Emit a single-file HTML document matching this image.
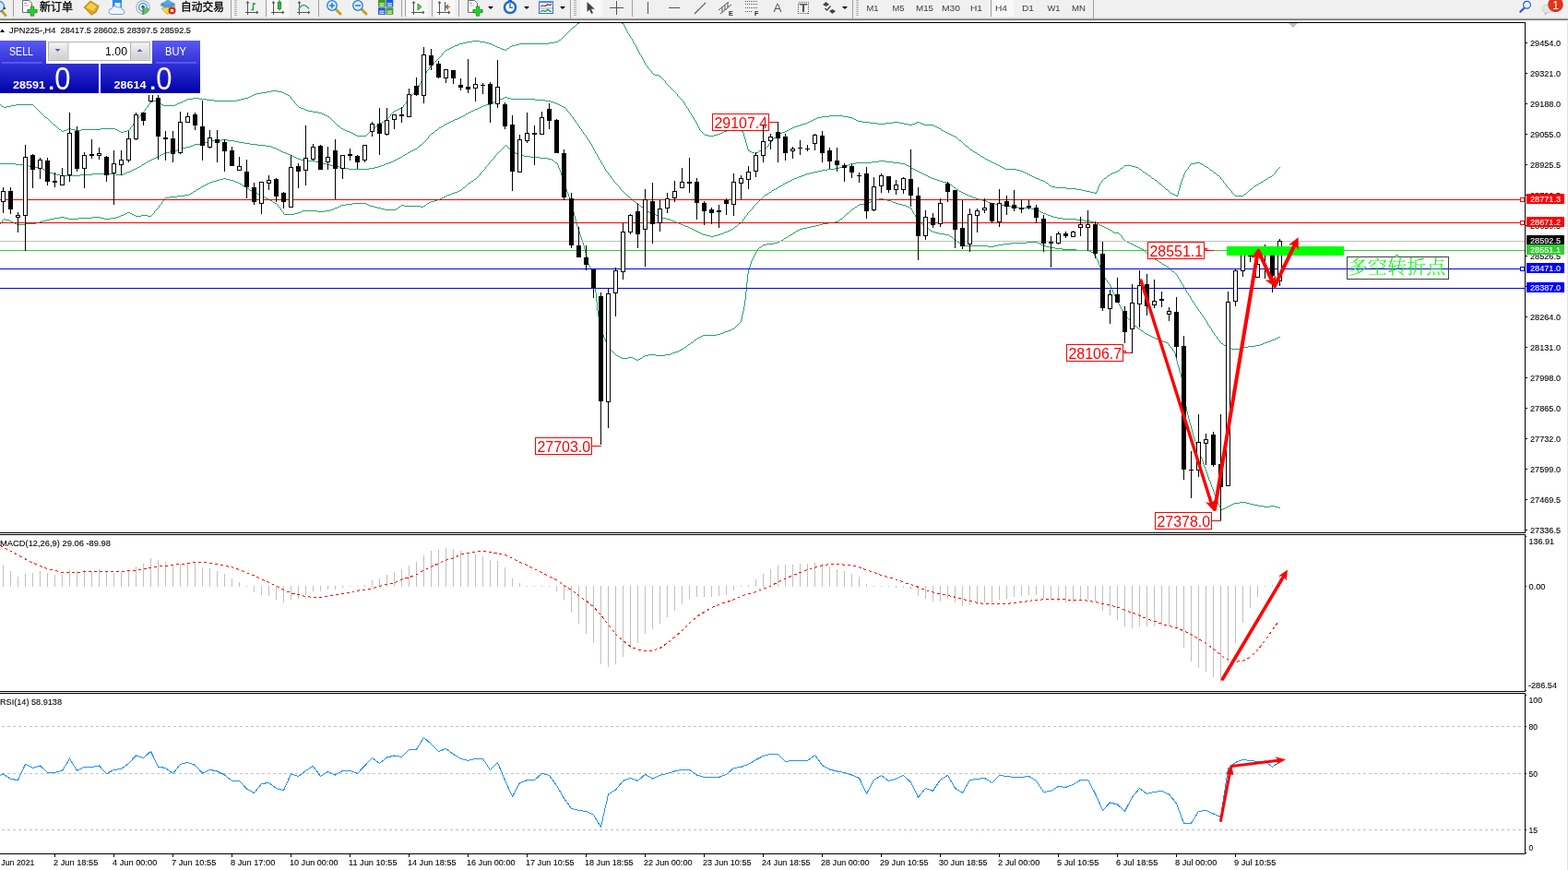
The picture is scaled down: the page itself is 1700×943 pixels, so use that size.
<!DOCTYPE html>
<html lang="zh"><head><meta charset="utf-8"><title>JPN225-,H4</title>
<style>html,body{margin:0;padding:0;background:#fff;overflow:hidden}svg{display:block}text{font-family:'Liberation Sans', 'Noto Sans CJK SC', sans-serif;}</style>
</head><body>
<svg width="1700" height="943" viewBox="0 0 1700 943">
<defs>
<linearGradient id="gb" x1="0" y1="0" x2="0" y2="1"><stop offset="0" stop-color="#5a5af2"/><stop offset="0.45" stop-color="#3030d8"/><stop offset="1" stop-color="#0000a8"/></linearGradient>
<linearGradient id="gbtn" x1="0" y1="0" x2="0" y2="1"><stop offset="0" stop-color="#f4f4f4"/><stop offset="0.5" stop-color="#e0e0e0"/><stop offset="1" stop-color="#cfcfcf"/></linearGradient>
<clipPath id="cpc"><rect x="0" y="25" width="1653" height="552"/></clipPath>
</defs>
<rect x="0" y="0" width="1700" height="943" fill="#fff"/>
<g clip-path="url(#cpc)">
<g shape-rendering="crispEdges">
<path d="M640 18h22M638 19h2M662 19h2M636 20h2M664 20h2M634 21h2M666 21h2M632 22h2M668 22h2M630 23h2M670 23h2M628 24h2M672 24h2M626 25h2M674 25h2M625 26h1M676 26h1M624 27h1M676 27h1M623 28h1M677 28h1M621 29h2M677 29h1M620 30h1M678 30h1M619 31h1M678 31h1M618 32h1M679 32h1M617 33h1M679 33h1M616 34h1M680 34h1M615 35h1M680 35h1M614 36h1M681 36h1M613 37h1M682 37h1M612 38h1M682 38h1M611 39h1M683 39h1M610 40h1M683 40h1M609 41h1M684 41h1M608 42h1M685 42h1M606 43h2M685 43h1M512 44h8M605 44h1M686 44h1M506 45h6M520 45h6M601 45h4M686 45h1M502 46h4M526 46h4M595 46h6M687 46h1M498 47h4M530 47h3M563 47h32M687 47h1M496 48h2M533 48h2M559 48h4M688 48h1M493 49h3M535 49h2M555 49h4M689 49h1M491 50h2M537 50h2M553 50h2M689 50h1M489 51h2M539 51h3M552 51h1M690 51h1M487 52h2M542 52h2M550 52h2M690 52h1M485 53h2M544 53h3M549 53h1M691 53h1M483 54h2M547 54h2M691 54h1M482 55h1M692 55h1M481 56h1M692 56h1M480 57h1M693 57h1M479 58h1M693 58h1M479 59h1M694 59h1M478 60h1M695 60h1M477 61h1M695 61h1M476 62h1M696 62h1M475 63h1M696 63h1M474 64h1M697 64h1M473 65h1M697 65h1M472 66h1M698 66h1M471 67h1M698 67h1M470 68h1M699 68h1M469 69h1M699 69h1M468 70h1M700 70h1M467 71h1M701 71h1M466 72h1M702 72h1M465 73h1M702 73h1M465 74h1M703 74h1M464 75h1M704 75h1M463 76h1M705 76h1M462 77h1M706 77h1M462 78h1M706 78h1M461 79h1M707 79h1M460 80h1M708 80h2M460 81h1M710 81h4M459 82h1M714 82h2M459 83h1M716 83h1M458 84h1M717 84h1M458 85h1M718 85h1M457 86h1M719 86h1M457 87h1M720 87h1M456 88h1M721 88h1M456 89h1M721 89h1M455 90h1M722 90h1M455 91h1M723 91h1M454 92h1M724 92h1M454 93h1M725 93h1M453 94h1M726 94h1M453 95h1M727 95h1M452 96h1M728 96h1M452 97h1M729 97h1M294 98h7M451 98h1M730 98h1M289 99h5M301 99h5M450 99h1M731 99h1M283 100h6M306 100h2M449 100h1M732 100h1M278 101h5M308 101h2M448 101h1M733 101h1M275 102h3M310 102h2M447 102h1M734 102h1M273 103h2M312 103h2M446 103h1M734 103h1M271 104h2M314 104h1M445 104h1M735 104h1M269 105h2M315 105h1M444 105h1M736 105h1M209 106h7M265 106h4M315 106h1M443 106h1M737 106h1M203 107h6M216 107h8M261 107h4M316 107h1M443 107h1M738 107h1M201 108h2M224 108h8M257 108h4M317 108h1M442 108h1M739 108h1M166 109h3M199 109h2M232 109h25M318 109h1M441 109h1M740 109h1M163 110h3M169 110h2M197 110h2M319 110h1M440 110h1M741 110h1M162 111h1M171 111h2M194 111h3M319 111h1M440 111h1M741 111h1M162 112h1M173 112h2M192 112h2M320 112h1M439 112h1M742 112h1M0 113h1M17 113h19M161 113h1M175 113h2M190 113h2M321 113h1M438 113h1M742 113h1M1 114h1M12 114h5M36 114h1M160 114h1M177 114h13M322 114h1M437 114h1M743 114h1M2 115h2M7 115h5M37 115h1M160 115h1M323 115h1M437 115h1M744 115h1M4 116h3M38 116h1M159 116h1M324 116h2M435 116h2M744 116h1M39 117h1M158 117h1M326 117h3M433 117h2M745 117h1M40 118h1M157 118h1M329 118h2M431 118h2M746 118h1M41 119h1M157 119h1M331 119h3M429 119h2M746 119h1M42 120h1M156 120h1M334 120h5M427 120h2M747 120h1M43 121h1M155 121h1M339 121h6M426 121h1M747 121h1M44 122h1M154 122h1M345 122h4M425 122h1M748 122h1M45 123h1M153 123h1M349 123h2M424 123h1M749 123h1M46 124h1M152 124h1M351 124h2M423 124h1M749 124h1M47 125h1M152 125h1M353 125h2M423 125h1M750 125h1M899 125h15M48 126h1M151 126h1M355 126h2M422 126h1M751 126h1M891 126h8M914 126h6M49 127h2M150 127h1M357 127h1M421 127h1M751 127h1M886 127h5M920 127h4M51 128h1M149 128h1M358 128h1M420 128h1M752 128h1M884 128h2M924 128h2M52 129h1M148 129h1M359 129h1M419 129h1M752 129h1M882 129h2M926 129h2M53 130h1M147 130h1M360 130h1M417 130h2M753 130h1M880 130h2M928 130h2M54 131h1M147 131h1M361 131h1M416 131h1M754 131h1M878 131h2M930 131h5M55 132h1M146 132h1M362 132h1M414 132h2M754 132h1M876 132h2M935 132h8M968 132h7M994 132h3M56 133h1M145 133h1M363 133h1M412 133h2M755 133h1M874 133h2M943 133h8M960 133h8M975 133h5M992 133h2M997 133h2M57 134h1M144 134h1M364 134h1M411 134h1M755 134h1M870 134h4M951 134h9M980 134h5M989 134h3M999 134h3M58 135h2M144 135h1M365 135h1M410 135h1M756 135h1M867 135h3M985 135h4M1002 135h10M60 136h1M143 136h1M366 136h2M408 136h2M756 136h1M864 136h3M1012 136h2M61 137h1M142 137h1M368 137h1M407 137h1M757 137h1M861 137h3M1014 137h2M62 138h1M141 138h1M369 138h1M406 138h1M757 138h1M859 138h2M1016 138h2M63 139h1M74 139h3M109 139h16M141 139h1M370 139h2M404 139h2M758 139h1M857 139h2M1018 139h2M64 140h2M72 140h2M77 140h4M88 140h21M125 140h2M140 140h1M372 140h2M403 140h1M758 140h1M790 140h11M855 140h2M1020 140h1M66 141h1M69 141h3M81 141h7M127 141h2M138 141h2M374 141h2M402 141h1M759 141h1M788 141h2M801 141h3M853 141h2M1021 141h2M67 142h2M129 142h2M134 142h4M376 142h3M401 142h1M760 142h1M785 142h3M804 142h2M851 142h2M1023 142h2M131 143h3M379 143h2M400 143h1M761 143h1M783 143h2M805 143h1M848 143h3M1025 143h2M381 144h2M399 144h1M762 144h1M781 144h2M806 144h1M846 144h2M1027 144h2M383 145h2M398 145h1M763 145h1M778 145h3M806 145h1M845 145h1M1029 145h2M385 146h2M397 146h1M764 146h4M774 146h4M806 146h1M843 146h2M1031 146h2M387 147h10M768 147h6M806 147h1M842 147h1M1033 147h2M807 148h1M841 148h1M1035 148h2M807 149h1M839 149h2M1037 149h1M807 150h1M838 150h1M1038 150h1M808 151h1M837 151h1M1039 151h1M808 152h1M836 152h1M1040 152h2M808 153h1M836 153h1M1042 153h1M808 154h1M835 154h1M1043 154h1M809 155h1M834 155h1M1044 155h1M809 156h1M833 156h1M1045 156h1M809 157h1M833 157h1M1046 157h1M810 158h1M832 158h1M1047 158h2M810 159h1M831 159h1M1049 159h1M810 160h1M829 160h2M1050 160h1M810 161h1M827 161h2M1051 161h1M811 162h1M825 162h2M1052 162h2M811 163h2M823 163h2M1054 163h1M813 164h2M822 164h1M1055 164h2M815 165h3M820 165h2M1057 165h2M818 166h2M1059 166h1M1060 167h2M1062 168h1M1063 169h2M1065 170h2M1067 171h1M1068 172h2M1070 173h2M1072 174h2M1074 175h2M1076 176h2M1296 176h5M1078 177h2M1291 177h5M1301 177h2M1080 178h2M1290 178h1M1303 178h2M1082 179h2M1219 179h8M1290 179h1M1305 179h1M1084 180h2M1218 180h1M1227 180h4M1289 180h1M1306 180h2M1086 181h2M1217 181h1M1231 181h3M1288 181h1M1308 181h2M1387 181h1M1088 182h2M1215 182h2M1234 182h1M1288 182h1M1310 182h1M1386 182h1M1090 183h12M1214 183h1M1235 183h2M1287 183h1M1311 183h1M1385 183h1M1102 184h4M1213 184h1M1237 184h1M1286 184h1M1312 184h2M1384 184h1M1106 185h3M1211 185h2M1238 185h1M1285 185h1M1314 185h1M1383 185h1M1109 186h2M1209 186h2M1239 186h2M1285 186h1M1315 186h1M1383 186h1M1111 187h2M1206 187h3M1241 187h1M1284 187h1M1316 187h2M1382 187h1M1113 188h2M1204 188h2M1242 188h2M1284 188h1M1318 188h1M1381 188h1M1115 189h2M1203 189h1M1244 189h1M1283 189h1M1319 189h1M1380 189h1M1117 190h2M1201 190h2M1245 190h2M1283 190h1M1320 190h2M1379 190h1M1119 191h2M1200 191h1M1247 191h1M1283 191h1M1322 191h1M1377 191h2M1121 192h2M1199 192h1M1248 192h1M1282 192h1M1323 192h1M1375 192h2M1123 193h3M1197 193h2M1249 193h2M1282 193h1M1323 193h1M1374 193h1M1126 194h2M1196 194h1M1251 194h1M1281 194h1M1324 194h1M1372 194h2M1128 195h3M1195 195h1M1252 195h2M1281 195h1M1325 195h1M1370 195h2M1131 196h2M1194 196h1M1254 196h1M1281 196h1M1326 196h1M1369 196h1M1133 197h1M1194 197h1M1255 197h1M1280 197h1M1326 197h1M1367 197h2M1134 198h2M1193 198h1M1256 198h1M1280 198h1M1327 198h1M1365 198h2M1136 199h1M1192 199h1M1257 199h2M1280 199h1M1328 199h1M1364 199h1M1137 200h1M1192 200h1M1259 200h1M1279 200h1M1329 200h1M1362 200h2M1138 201h2M1191 201h1M1260 201h1M1279 201h1M1329 201h1M1360 201h2M1140 202h4M1191 202h1M1261 202h1M1279 202h1M1330 202h1M1359 202h1M1144 203h12M1190 203h1M1262 203h1M1279 203h1M1331 203h1M1358 203h1M1156 204h11M1190 204h1M1263 204h1M1278 204h1M1332 204h1M1357 204h1M1167 205h6M1190 205h1M1264 205h2M1278 205h1M1333 205h1M1355 205h2M1173 206h4M1189 206h1M1266 206h1M1278 206h1M1334 206h1M1354 206h1M1177 207h5M1189 207h1M1267 207h1M1277 207h1M1335 207h1M1353 207h1M1182 208h4M1188 208h1M1268 208h1M1277 208h1M1335 208h1M1352 208h1M1186 209h3M1269 209h2M1277 209h1M1336 209h1M1351 209h1M1271 210h2M1277 210h1M1337 210h1M1349 210h2M1273 211h2M1276 211h1M1338 211h1M1348 211h1M1275 212h2M1339 212h9" transform="translate(0,0.5)" fill="none" stroke="#22a55f" stroke-width="1" shape-rendering="crispEdges"/>
<path d="M547 105h3M545 106h2M550 106h4M542 107h3M554 107h26M540 108h2M580 108h11M538 109h2M591 109h6M536 110h2M597 110h3M534 111h2M600 111h3M531 112h3M603 112h2M527 113h4M605 113h2M524 114h3M607 114h2M522 115h2M609 115h2M520 116h2M611 116h2M518 117h2M613 117h1M515 118h3M614 118h1M513 119h2M614 119h1M511 120h2M615 120h1M509 121h2M616 121h1M507 122h2M617 122h1M505 123h2M618 123h1M504 124h1M618 124h1M502 125h2M619 125h1M500 126h2M620 126h1M498 127h2M621 127h1M496 128h2M621 128h1M493 129h3M622 129h1M491 130h2M623 130h1M489 131h2M623 131h1M487 132h2M624 132h1M485 133h2M625 133h1M483 134h2M626 134h1M481 135h2M626 135h1M480 136h1M627 136h1M478 137h2M628 137h1M476 138h2M628 138h1M475 139h1M629 139h1M474 140h1M630 140h1M472 141h2M630 141h1M471 142h1M631 142h1M470 143h1M632 143h1M468 144h2M632 144h1M467 145h1M633 145h1M466 146h1M634 146h1M465 147h1M635 147h1M464 148h1M635 148h1M464 149h1M636 149h1M463 150h1M637 150h1M240 151h7M462 151h1M637 151h1M227 152h13M247 152h7M461 152h1M638 152h1M225 153h2M254 153h5M460 153h1M639 153h1M222 154h3M259 154h6M459 154h1M639 154h1M217 155h5M265 155h6M458 155h1M640 155h1M211 156h6M271 156h8M457 156h1M641 156h1M209 157h2M279 157h9M455 157h2M641 157h1M206 158h3M288 158h6M454 158h1M642 158h1M202 159h4M294 159h2M453 159h1M642 159h1M198 160h4M296 160h3M452 160h1M643 160h1M194 161h4M299 161h2M450 161h2M643 161h1M192 162h2M301 162h2M448 162h2M644 162h1M189 163h3M303 163h2M446 163h2M644 163h1M184 164h5M305 164h2M444 164h2M645 164h1M179 165h5M307 165h3M442 165h2M645 165h1M177 166h2M310 166h2M441 166h1M646 166h1M175 167h2M312 167h3M439 167h2M647 167h1M173 168h2M315 168h2M437 168h2M647 168h1M171 169h2M317 169h2M436 169h1M648 169h1M169 170h2M319 170h2M434 170h2M648 170h1M167 171h2M321 171h2M432 171h2M649 171h1M165 172h2M323 172h3M430 172h2M649 172h1M163 173h2M326 173h4M428 173h2M650 173h1M161 174h2M330 174h12M426 174h2M651 174h1M953 174h7M159 175h2M342 175h4M424 175h2M651 175h1M945 175h8M960 175h8M158 176h1M346 176h4M421 176h3M652 176h1M928 176h17M968 176h8M0 177h17M156 177h2M350 177h4M418 177h3M652 177h1M922 177h6M976 177h5M17 178h9M154 178h2M354 178h4M416 178h2M653 178h1M920 178h2M981 178h2M26 179h5M153 179h1M358 179h4M413 179h3M654 179h1M917 179h3M983 179h2M31 180h5M151 180h2M362 180h6M410 180h3M654 180h1M914 180h3M985 180h2M36 181h6M149 181h2M368 181h6M406 181h4M655 181h1M910 181h4M987 181h1M42 182h4M147 182h2M374 182h4M400 182h6M655 182h1M905 182h5M988 182h2M46 183h2M145 183h2M378 183h22M656 183h1M897 183h8M990 183h2M48 184h2M143 184h2M656 184h1M891 184h6M992 184h2M50 185h2M141 185h2M657 185h1M887 185h4M994 185h2M52 186h2M138 186h3M658 186h1M882 186h5M996 186h2M54 187h3M136 187h2M659 187h1M878 187h4M998 187h2M57 188h4M100 188h25M134 188h2M659 188h1M874 188h4M1000 188h2M61 189h4M87 189h13M125 189h9M660 189h1M872 189h2M1002 189h2M65 190h22M661 190h1M869 190h3M1004 190h2M662 191h1M866 191h3M1006 191h2M662 192h1M864 192h2M1008 192h2M663 193h1M861 193h3M1010 193h3M664 194h1M859 194h2M1013 194h3M665 195h1M857 195h2M1016 195h3M665 196h1M855 196h2M1019 196h3M666 197h1M853 197h2M1022 197h4M667 198h1M851 198h2M1026 198h3M668 199h1M849 199h2M1029 199h1M669 200h1M848 200h1M1030 200h2M670 201h1M846 201h2M1032 201h1M671 202h1M844 202h2M1033 202h1M672 203h1M843 203h1M1034 203h2M672 204h1M841 204h2M1036 204h1M673 205h1M839 205h2M1037 205h2M674 206h1M837 206h2M1039 206h1M675 207h1M836 207h1M1040 207h2M676 208h1M834 208h2M1042 208h2M677 209h1M833 209h1M1044 209h2M678 210h1M831 210h2M1046 210h2M679 211h1M829 211h2M1048 211h2M680 212h1M828 212h1M1050 212h3M681 213h2M827 213h1M1053 213h2M683 214h1M826 214h1M1055 214h3M684 215h1M825 215h1M1058 215h3M685 216h1M824 216h1M1061 216h4M686 217h1M823 217h1M1065 217h4M687 218h2M822 218h1M1069 218h2M689 219h1M821 219h1M1071 219h3M690 220h2M820 220h1M1074 220h5M692 221h1M819 221h1M1079 221h6M693 222h1M818 222h1M1085 222h4M694 223h1M817 223h1M1089 223h7M695 224h2M816 224h1M1096 224h8M697 225h1M816 225h1M1104 225h14M698 226h1M815 226h1M1118 226h4M699 227h1M814 227h1M1122 227h3M700 228h2M813 228h1M1125 228h2M702 229h2M812 229h1M1127 229h2M704 230h2M811 230h1M1129 230h2M706 231h3M810 231h1M1131 231h3M709 232h2M810 232h1M1134 232h2M711 233h2M809 233h1M1136 233h3M713 234h2M808 234h1M1139 234h3M715 235h3M807 235h1M1142 235h4M718 236h4M807 236h1M1146 236h6M722 237h4M806 237h1M1152 237h15M726 238h2M805 238h1M1167 238h8M728 239h3M805 239h1M1175 239h7M731 240h2M804 240h1M1182 240h4M733 241h3M803 241h1M1186 241h3M736 242h2M801 242h2M1189 242h2M738 243h3M800 243h1M1191 243h2M741 244h2M799 244h1M1193 244h2M743 245h3M797 245h2M1195 245h2M746 246h2M796 246h1M1197 246h2M748 247h2M795 247h1M1199 247h2M750 248h2M793 248h2M1201 248h2M752 249h2M791 249h2M1203 249h2M754 250h2M789 250h2M1205 250h1M756 251h2M786 251h3M1206 251h2M758 252h2M784 252h2M1208 252h5M760 253h2M781 253h3M1213 253h1M762 254h4M778 254h3M1214 254h1M766 255h4M774 255h4M1215 255h1M770 256h4M1216 256h1M1216 257h1M1217 258h1M1218 259h1M1219 260h1M1220 261h2M1222 262h2M1224 263h2M1226 264h2M1228 265h2M1230 266h2M1232 267h2M1234 268h2M1236 269h2M1238 270h2M1240 271h1M1241 272h1M1242 273h1M1243 274h1M1244 275h1M1245 276h1M1246 277h1M1247 278h2M1249 279h2M1251 280h1M1252 281h2M1254 282h2M1256 283h1M1257 284h2M1259 285h1M1260 286h2M1262 287h2M1264 288h1M1265 289h2M1267 290h1M1268 291h1M1269 292h1M1270 293h1M1271 294h2M1273 295h1M1274 296h1M1275 297h1M1276 298h1M1276 299h1M1277 300h1M1277 301h1M1278 302h1M1279 303h1M1279 304h1M1280 305h1M1280 306h1M1281 307h1M1282 308h1M1282 309h1M1283 310h1M1283 311h1M1284 312h1M1285 313h1M1285 314h1M1286 315h1M1286 316h1M1287 317h1M1288 318h1M1288 319h1M1289 320h1M1290 321h1M1290 322h1M1291 323h1M1291 324h1M1292 325h1M1293 326h1M1293 327h1M1294 328h1M1295 329h1M1295 330h1M1296 331h1M1297 332h1M1297 333h1M1298 334h1M1299 335h1M1299 336h1M1300 337h1M1301 338h1M1301 339h1M1302 340h1M1303 341h1M1304 342h1M1304 343h1M1305 344h1M1306 345h1M1306 346h1M1307 347h1M1308 348h1M1308 349h1M1309 350h1M1309 351h1M1310 352h1M1311 353h1M1311 354h1M1312 355h1M1313 356h1M1313 357h1M1314 358h1M1314 359h1M1315 360h1M1316 361h1M1316 362h1M1317 363h1M1318 364h1M1319 365h1M1386 365h2M1319 366h1M1384 366h2M1320 367h1M1382 367h2M1321 368h1M1379 368h3M1322 369h1M1377 369h2M1322 370h1M1374 370h3M1323 371h1M1371 371h3M1324 372h2M1369 372h2M1326 373h1M1366 373h3M1327 374h2M1361 374h5M1329 375h2M1353 375h8M1331 376h2M1348 376h5M1333 377h2M1346 377h2M1335 378h11" transform="translate(0,0.5)" fill="none" stroke="#22a55f" stroke-width="1" shape-rendering="crispEdges"/>
<path d="M548 157h1M547 158h1M549 158h1M546 159h1M550 159h1M545 160h1M551 160h1M544 161h1M552 161h2M543 162h1M554 162h1M542 163h1M555 163h1M541 164h1M556 164h1M540 165h1M557 165h2M539 166h1M559 166h2M538 167h1M561 167h2M537 168h1M563 168h5M536 169h1M568 169h7M536 170h1M575 170h10M535 171h1M585 171h9M534 172h1M594 172h4M533 173h1M598 173h2M532 174h1M600 174h1M531 175h1M601 175h1M530 176h1M602 176h2M530 177h1M604 177h1M529 178h1M604 178h1M528 179h1M605 179h1M527 180h1M605 180h1M526 181h1M605 181h1M526 182h1M606 182h1M525 183h1M606 183h1M524 184h1M607 184h1M523 185h1M607 185h1M522 186h1M607 186h1M521 187h1M608 187h1M520 188h1M608 188h1M520 189h1M608 189h1M519 190h1M609 190h1M518 191h1M609 191h1M517 192h1M609 192h1M242 193h3M516 193h1M610 193h1M238 194h4M245 194h4M514 194h2M610 194h1M235 195h3M249 195h4M513 195h1M610 195h1M231 196h4M253 196h2M511 196h2M611 196h1M228 197h3M255 197h3M510 197h1M611 197h1M226 198h2M258 198h2M508 198h2M611 198h1M224 199h2M260 199h2M507 199h1M612 199h1M222 200h2M262 200h1M506 200h1M612 200h1M220 201h2M263 201h2M505 201h1M612 201h1M218 202h2M265 202h2M504 202h1M613 202h1M217 203h1M267 203h1M502 203h2M613 203h1M215 204h2M268 204h2M501 204h1M613 204h1M213 205h2M270 205h1M500 205h1M614 205h1M212 206h1M271 206h2M498 206h2M614 206h1M210 207h2M273 207h2M496 207h2M614 207h1M209 208h1M275 208h2M493 208h3M615 208h1M207 209h2M277 209h2M490 209h3M615 209h1M205 210h2M279 210h2M488 210h2M616 210h1M200 211h5M281 211h2M485 211h3M616 211h1M192 212h8M283 212h2M483 212h2M616 212h1M184 213h8M285 213h2M481 213h2M617 213h1M179 214h5M287 214h2M479 214h2M617 214h1M178 215h1M289 215h2M477 215h2M618 215h1M953 215h5M178 216h1M291 216h2M474 216h3M618 216h1M948 216h5M958 216h4M177 217h1M293 217h2M471 217h3M618 217h1M946 217h2M962 217h4M176 218h1M295 218h1M467 218h4M619 218h1M944 218h2M966 218h2M175 219h1M296 219h2M465 219h2M619 219h1M942 219h2M968 219h3M175 220h1M298 220h2M382 220h15M463 220h2M619 220h1M937 220h5M971 220h3M174 221h1M300 221h1M375 221h7M397 221h2M462 221h1M619 221h1M932 221h5M974 221h4M173 222h1M301 222h1M370 222h5M399 222h2M435 222h3M461 222h1M620 222h1M930 222h2M978 222h4M172 223h1M301 223h1M368 223h2M401 223h4M434 223h1M438 223h18M459 223h2M620 223h1M929 223h1M982 223h2M172 224h1M302 224h1M366 224h2M405 224h4M432 224h2M456 224h3M620 224h1M927 224h2M984 224h2M171 225h1M303 225h1M363 225h3M409 225h4M431 225h1M620 225h1M926 225h1M986 225h2M170 226h1M304 226h1M361 226h2M413 226h4M429 226h2M621 226h1M924 226h2M988 226h1M169 227h1M304 227h1M358 227h3M417 227h12M621 227h1M923 227h1M988 227h1M168 228h1M305 228h1M328 228h16M352 228h6M621 228h1M922 228h1M989 228h1M167 229h1M306 229h1M326 229h2M344 229h8M621 229h1M921 229h1M989 229h1M138 230h3M167 230h1M307 230h1M323 230h3M622 230h1M920 230h1M990 230h1M136 231h2M141 231h2M166 231h1M307 231h1M319 231h4M622 231h1M918 231h2M990 231h1M134 232h2M143 232h2M165 232h1M308 232h11M622 232h1M917 232h1M991 232h1M131 233h3M145 233h2M153 233h7M164 233h1M622 233h1M916 233h1M992 233h1M129 234h2M147 234h6M160 234h4M623 234h1M915 234h1M992 234h1M65 235h5M100 235h9M126 235h3M623 235h1M914 235h1M993 235h1M59 236h6M70 236h4M85 236h15M109 236h4M120 236h6M623 236h1M913 236h1M993 236h1M4 237h2M54 237h5M74 237h11M113 237h7M623 237h1M911 237h2M994 237h1M3 238h1M6 238h4M50 238h4M624 238h1M910 238h1M994 238h1M2 239h1M10 239h2M46 239h4M624 239h1M909 239h1M995 239h1M2 240h1M12 240h2M43 240h3M624 240h1M905 240h4M996 240h1M1 241h1M14 241h2M39 241h4M624 241h1M898 241h7M997 241h2M0 242h1M16 242h2M28 242h11M625 242h1M892 242h6M999 242h1M18 243h10M625 243h1M888 243h4M1000 243h1M625 244h1M884 244h4M1001 244h2M626 245h1M879 245h5M1003 245h1M626 246h1M875 246h4M1004 246h1M626 247h1M870 247h5M1005 247h2M627 248h1M867 248h3M1007 248h1M627 249h1M865 249h2M1008 249h1M627 250h1M863 250h2M1009 250h2M628 251h1M862 251h1M1011 251h3M628 252h1M860 252h2M1014 252h4M628 253h1M859 253h1M1018 253h6M629 254h1M857 254h2M1024 254h5M629 255h1M855 255h2M1029 255h1M629 256h1M854 256h1M1030 256h2M630 257h1M852 257h2M1032 257h1M630 258h1M850 258h2M1033 258h1M630 259h1M849 259h1M1034 259h2M631 260h1M847 260h2M1036 260h1M631 261h1M845 261h2M1037 261h1M631 262h1M843 262h2M1038 262h2M1113 262h12M632 263h1M839 263h4M1040 263h1M1096 263h17M1125 263h2M632 264h1M831 264h8M1041 264h1M1088 264h8M1127 264h2M632 265h1M827 265h4M1042 265h2M1082 265h6M1129 265h2M633 266h1M826 266h1M1044 266h27M1078 266h4M1131 266h3M633 267h1M825 267h1M1071 267h7M1134 267h4M633 268h1M823 268h2M1138 268h6M633 269h1M822 269h1M1144 269h8M634 270h1M821 270h1M1152 270h15M634 271h1M820 271h1M1167 271h14M634 272h1M820 272h1M1181 272h2M634 273h1M819 273h1M1183 273h2M635 274h1M819 274h1M1185 274h1M635 275h1M818 275h1M1186 275h1M635 276h1M818 276h1M1186 276h1M635 277h1M817 277h1M1187 277h1M636 278h1M817 278h1M1188 278h1M636 279h1M816 279h1M1188 279h1M636 280h1M816 280h1M1189 280h1M636 281h1M815 281h1M1189 281h1M637 282h1M815 282h1M1190 282h1M637 283h1M814 283h1M1190 283h1M637 284h1M814 284h1M1190 284h1M637 285h1M814 285h1M1191 285h1M638 286h1M813 286h1M1191 286h1M638 287h1M813 287h1M1192 287h1M639 288h1M813 288h1M1192 288h1M639 289h1M812 289h1M1192 289h1M640 290h1M812 290h1M1193 290h1M640 291h1M811 291h1M1193 291h1M641 292h1M811 292h1M1194 292h1M641 293h1M811 293h1M1194 293h1M641 294h1M811 294h1M1195 294h1M642 295h1M811 295h1M1195 295h1M642 296h1M811 296h1M1195 296h1M642 297h1M810 297h1M1196 297h1M642 298h1M810 298h1M1196 298h1M642 299h1M810 299h1M1197 299h1M643 300h1M810 300h1M1197 300h1M643 301h1M810 301h1M1198 301h1M643 302h1M810 302h1M1198 302h1M643 303h1M810 303h1M1199 303h1M643 304h1M810 304h1M1200 304h1M644 305h1M810 305h1M1200 305h1M644 306h1M809 306h1M1201 306h1M644 307h1M809 307h1M1202 307h1M644 308h1M809 308h1M1203 308h1M644 309h1M809 309h1M1203 309h1M645 310h1M809 310h1M1204 310h1M645 311h1M809 311h1M1204 311h1M645 312h1M809 312h1M1205 312h1M645 313h1M809 313h1M1205 313h1M645 314h1M809 314h1M1206 314h1M645 315h1M809 315h1M1206 315h1M645 316h1M808 316h1M1206 316h1M646 317h1M808 317h1M1207 317h1M646 318h1M808 318h1M1207 318h1M646 319h1M808 319h1M1208 319h1M646 320h1M808 320h1M1208 320h1M646 321h1M808 321h1M1209 321h1M646 322h1M808 322h1M1209 322h1M646 323h1M808 323h1M1210 323h1M646 324h1M808 324h1M1210 324h1M646 325h1M807 325h1M1211 325h1M646 326h1M807 326h1M1211 326h1M647 327h1M807 327h1M1212 327h1M647 328h1M807 328h1M1212 328h1M647 329h1M807 329h1M1213 329h1M647 330h1M807 330h1M1213 330h1M647 331h1M807 331h1M1214 331h1M647 332h1M806 332h1M1214 332h1M647 333h1M806 333h1M1215 333h1M647 334h1M806 334h1M1215 334h1M647 335h1M806 335h1M1216 335h1M647 336h1M806 336h1M1216 336h1M648 337h1M805 337h1M1217 337h1M648 338h1M805 338h1M1217 338h1M648 339h1M805 339h1M1218 339h1M648 340h1M805 340h1M1219 340h1M648 341h1M804 341h1M1220 341h1M648 342h1M804 342h1M1221 342h1M649 343h1M804 343h1M1221 343h1M649 344h1M804 344h1M1222 344h1M649 345h1M804 345h1M1223 345h1M649 346h1M803 346h1M1224 346h1M650 347h1M803 347h1M1225 347h1M650 348h1M803 348h1M1226 348h1M650 349h1M802 349h1M1226 349h1M650 350h1M801 350h1M1227 350h1M651 351h1M800 351h1M1228 351h1M651 352h1M799 352h1M1229 352h1M651 353h1M798 353h1M1230 353h2M651 354h1M797 354h1M1232 354h1M652 355h1M796 355h1M1233 355h1M652 356h1M794 356h2M1234 356h2M652 357h1M792 357h2M1236 357h1M652 358h1M789 358h3M1237 358h2M653 359h1M786 359h3M1239 359h1M653 360h1M784 360h2M1240 360h1M653 361h1M781 361h3M1241 361h2M653 362h1M777 362h4M1243 362h2M654 363h1M762 363h15M1245 363h2M654 364h1M760 364h2M1247 364h2M654 365h1M758 365h2M1249 365h2M655 366h1M756 366h2M1251 366h2M655 367h1M755 367h1M1253 367h3M656 368h1M753 368h2M1256 368h3M656 369h1M752 369h1M1259 369h2M657 370h1M751 370h1M1261 370h3M657 371h1M749 371h2M1264 371h2M658 372h1M748 372h1M1266 372h1M659 373h1M746 373h2M1267 373h1M659 374h1M745 374h1M1267 374h1M660 375h1M744 375h1M1268 375h1M660 376h1M742 376h2M1269 376h1M661 377h1M741 377h1M1270 377h1M661 378h1M739 378h2M1271 378h1M662 379h1M737 379h2M1271 379h1M663 380h1M735 380h2M1272 380h1M664 381h1M732 381h3M1273 381h1M665 382h1M729 382h3M1273 382h1M666 383h1M727 383h2M1274 383h1M667 384h1M703 384h8M721 384h6M1274 384h1M668 385h2M699 385h4M711 385h10M1274 385h1M670 386h2M697 386h2M1274 386h1M672 387h2M681 387h5M696 387h1M1275 387h1M674 388h7M686 388h2M694 388h2M1275 388h1M688 389h2M692 389h2M1275 389h1M690 390h2M1275 390h1M1276 391h1M1276 392h1M1276 393h1M1276 394h1M1277 395h1M1277 396h1M1277 397h1M1278 398h1M1278 399h1M1278 400h1M1278 401h1M1279 402h1M1279 403h1M1279 404h1M1280 405h1M1280 406h1M1280 407h1M1280 408h1M1281 409h1M1281 410h1M1281 411h1M1281 412h1M1281 413h1M1282 414h1M1282 415h1M1282 416h1M1282 417h1M1282 418h1M1282 419h1M1282 420h1M1283 421h1M1283 422h1M1283 423h1M1283 424h1M1283 425h1M1283 426h1M1284 427h1M1284 428h1M1284 429h1M1284 430h1M1284 431h1M1284 432h1M1284 433h1M1285 434h1M1285 435h1M1285 436h1M1285 437h1M1285 438h1M1285 439h1M1285 440h1M1286 441h1M1286 442h1M1286 443h1M1286 444h1M1286 445h1M1287 446h1M1287 447h1M1287 448h1M1287 449h1M1288 450h1M1288 451h1M1288 452h1M1288 453h1M1289 454h1M1289 455h1M1289 456h1M1289 457h1M1290 458h1M1290 459h1M1290 460h1M1291 461h1M1291 462h1M1291 463h1M1291 464h1M1292 465h1M1292 466h1M1292 467h1M1292 468h1M1293 469h1M1293 470h1M1293 471h1M1293 472h1M1294 473h1M1294 474h1M1294 475h1M1295 476h1M1295 477h1M1295 478h1M1296 479h1M1296 480h1M1297 481h1M1297 482h1M1297 483h1M1298 484h1M1298 485h1M1298 486h1M1299 487h1M1299 488h1M1300 489h1M1300 490h1M1300 491h1M1301 492h1M1301 493h1M1301 494h1M1302 495h1M1302 496h1M1303 497h1M1303 498h1M1303 499h1M1304 500h1M1304 501h1M1304 502h1M1305 503h1M1305 504h1M1305 505h1M1306 506h1M1306 507h1M1307 508h1M1307 509h1M1307 510h1M1308 511h1M1308 512h1M1308 513h1M1309 514h1M1309 515h1M1309 516h1M1310 517h1M1310 518h1M1310 519h1M1311 520h1M1311 521h1M1312 522h1M1312 523h1M1312 524h1M1313 525h1M1313 526h1M1313 527h1M1314 528h1M1314 529h1M1315 530h1M1315 531h1M1315 532h1M1316 533h1M1316 534h1M1316 535h1M1317 536h1M1317 537h1M1318 538h1M1318 539h1M1318 540h1M1319 541h1M1319 542h1M1319 543h1M1320 544h1M1344 544h7M1320 545h1M1338 545h6M1351 545h4M1321 546h1M1336 546h2M1355 546h4M1321 547h1M1334 547h2M1359 547h5M1322 548h1M1332 548h2M1364 548h6M1377 548h5M1322 549h1M1330 549h2M1370 549h7M1382 549h4M1323 550h1M1328 550h2M1386 550h2M1323 551h1M1326 551h2M1324 552h2" transform="translate(0,0.5)" fill="none" stroke="#22a55f" stroke-width="1" shape-rendering="crispEdges"/>
</g>
<g shape-rendering="crispEdges">
<rect x="0" y="216" width="1653" height="1" fill="#ff0000"/>
<rect x="0" y="241" width="1653" height="1" fill="#ff0000"/>
<rect x="0" y="261" width="1653" height="1" fill="#c0c0c0"/>
<rect x="0" y="271" width="1653" height="1" fill="#32cd32"/>
<rect x="0" y="291" width="1653" height="1" fill="#0000ff"/>
<rect x="0" y="312" width="1653" height="1" fill="#0000ff"/>
<rect x="1648.5" y="214.5" width="4" height="4" fill="#fff" stroke="#ff0000" stroke-width="1"/>
<rect x="1648.5" y="239.5" width="4" height="4" fill="#fff" stroke="#ff0000" stroke-width="1"/>
<rect x="1648.5" y="289.5" width="4" height="4" fill="#fff" stroke="#0000ff" stroke-width="1"/>
</g>
<g shape-rendering="crispEdges"><rect x="772.5" y="123.5" width="61" height="18" fill="#fff" stroke="#ff0000" stroke-width="1"/>
<rect x="834" y="132" width="9" height="1" fill="#ff0000"/></g>
<text x="774.5" y="139" font-size="16" fill="#ff0000" textLength="57.5" lengthAdjust="spacingAndGlyphs">29107.4</text>
<g shape-rendering="crispEdges"><rect x="580.5" y="474.5" width="61" height="18" fill="#fff" stroke="#ff0000" stroke-width="1"/>
<rect x="642" y="483" width="10" height="1" fill="#ff0000"/></g>
<text x="582.5" y="490" font-size="16" fill="#ff0000" textLength="57.5" lengthAdjust="spacingAndGlyphs">27703.0</text>
<g shape-rendering="crispEdges"><rect x="1156.5" y="373.5" width="61" height="18" fill="#fff" stroke="#ff0000" stroke-width="1"/>
<rect x="1218.5" y="380.5" width="2" height="2" fill="#fff" stroke="#ff0000"/><rect x="1221" y="382" width="7" height="1" fill="#ff0000"/></g>
<text x="1158.5" y="389" font-size="16" fill="#ff0000" textLength="57.5" lengthAdjust="spacingAndGlyphs">28106.7</text>
<g shape-rendering="crispEdges"><rect x="1244.5" y="262.5" width="61" height="18" fill="#fff" stroke="#ff0000" stroke-width="1"/>
<rect x="1306.5" y="269.5" width="2" height="2" fill="#fff" stroke="#ff0000"/><rect x="1309" y="271" width="7" height="1" fill="#ff0000"/></g>
<text x="1246.5" y="278" font-size="16" fill="#ff0000" textLength="57.5" lengthAdjust="spacingAndGlyphs">28551.1</text>
<g shape-rendering="crispEdges"><rect x="1252.5" y="555.5" width="61" height="18" fill="#fff" stroke="#ff0000" stroke-width="1"/>
<rect x="1314" y="564" width="10" height="1" fill="#ff0000"/></g>
<text x="1254.5" y="571" font-size="16" fill="#ff0000" textLength="57.5" lengthAdjust="spacingAndGlyphs">27378.0</text>
<g shape-rendering="crispEdges">
<rect x="3" y="203" width="1" height="28" fill="#000"/>
<rect x="1" y="207" width="5" height="12" fill="#000"/>
<rect x="2" y="208" width="3" height="10" fill="#fff"/>
<rect x="11" y="203" width="1" height="29" fill="#000"/>
<rect x="9" y="207" width="5" height="20" fill="#000"/>
<rect x="19" y="230" width="1" height="22" fill="#000"/>
<rect x="17" y="233" width="5" height="3" fill="#000"/>
<rect x="18" y="234" width="3" height="1" fill="#fff"/>
<rect x="27" y="157" width="1" height="115" fill="#000"/>
<rect x="25" y="170" width="5" height="64" fill="#000"/>
<rect x="26" y="171" width="3" height="62" fill="#fff"/>
<rect x="35" y="167" width="1" height="37" fill="#000"/>
<rect x="33" y="168" width="5" height="16" fill="#000"/>
<rect x="43" y="171" width="1" height="23" fill="#000"/>
<rect x="41" y="173" width="5" height="10" fill="#000"/>
<rect x="42" y="174" width="3" height="8" fill="#fff"/>
<rect x="51" y="171" width="1" height="30" fill="#000"/>
<rect x="49" y="174" width="5" height="23" fill="#000"/>
<rect x="59" y="187" width="1" height="16" fill="#000"/>
<rect x="57" y="196" width="5" height="2" fill="#000"/>
<rect x="67" y="182" width="1" height="19" fill="#000"/>
<rect x="65" y="190" width="5" height="11" fill="#000"/>
<rect x="66" y="191" width="3" height="9" fill="#fff"/>
<rect x="75" y="122" width="1" height="75" fill="#000"/>
<rect x="73" y="144" width="5" height="46" fill="#000"/>
<rect x="74" y="145" width="3" height="44" fill="#fff"/>
<rect x="83" y="137" width="1" height="49" fill="#000"/>
<rect x="81" y="142" width="5" height="41" fill="#000"/>
<rect x="91" y="165" width="1" height="39" fill="#000"/>
<rect x="89" y="168" width="5" height="15" fill="#000"/>
<rect x="90" y="169" width="3" height="13" fill="#fff"/>
<rect x="99" y="151" width="1" height="21" fill="#000"/>
<rect x="97" y="167" width="5" height="2" fill="#000"/>
<rect x="107" y="160" width="1" height="13" fill="#000"/>
<rect x="105" y="166" width="5" height="3" fill="#000"/>
<rect x="106" y="167" width="3" height="1" fill="#fff"/>
<rect x="115" y="169" width="1" height="28" fill="#000"/>
<rect x="113" y="170" width="5" height="20" fill="#000"/>
<rect x="123" y="163" width="1" height="59" fill="#000"/>
<rect x="121" y="177" width="5" height="11" fill="#000"/>
<rect x="122" y="178" width="3" height="9" fill="#fff"/>
<rect x="131" y="163" width="1" height="27" fill="#000"/>
<rect x="129" y="173" width="5" height="6" fill="#000"/>
<rect x="130" y="174" width="3" height="4" fill="#fff"/>
<rect x="139" y="142" width="1" height="34" fill="#000"/>
<rect x="137" y="150" width="5" height="24" fill="#000"/>
<rect x="138" y="151" width="3" height="22" fill="#fff"/>
<rect x="147" y="122" width="1" height="30" fill="#000"/>
<rect x="145" y="124" width="5" height="27" fill="#000"/>
<rect x="146" y="125" width="3" height="25" fill="#fff"/>
<rect x="155" y="122" width="1" height="14" fill="#000"/>
<rect x="153" y="122" width="5" height="9" fill="#000"/>
<rect x="163" y="84" width="1" height="27" fill="#000"/>
<rect x="161" y="93" width="5" height="17" fill="#000"/>
<rect x="162" y="94" width="3" height="15" fill="#fff"/>
<rect x="171" y="85" width="1" height="88" fill="#000"/>
<rect x="169" y="106" width="5" height="42" fill="#000"/>
<rect x="179" y="142" width="1" height="32" fill="#000"/>
<rect x="177" y="149" width="5" height="2" fill="#000"/>
<rect x="187" y="142" width="1" height="34" fill="#000"/>
<rect x="185" y="150" width="5" height="17" fill="#000"/>
<rect x="195" y="121" width="1" height="46" fill="#000"/>
<rect x="193" y="132" width="5" height="34" fill="#000"/>
<rect x="194" y="133" width="3" height="32" fill="#fff"/>
<rect x="203" y="122" width="1" height="11" fill="#000"/>
<rect x="201" y="126" width="5" height="7" fill="#000"/>
<rect x="202" y="127" width="3" height="5" fill="#fff"/>
<rect x="211" y="122" width="1" height="19" fill="#000"/>
<rect x="209" y="124" width="5" height="12" fill="#000"/>
<rect x="219" y="109" width="1" height="65" fill="#000"/>
<rect x="217" y="137" width="5" height="21" fill="#000"/>
<rect x="227" y="141" width="1" height="20" fill="#000"/>
<rect x="225" y="149" width="5" height="11" fill="#000"/>
<rect x="226" y="150" width="3" height="9" fill="#fff"/>
<rect x="235" y="141" width="1" height="35" fill="#000"/>
<rect x="233" y="151" width="5" height="4" fill="#000"/>
<rect x="243" y="151" width="1" height="35" fill="#000"/>
<rect x="241" y="154" width="5" height="10" fill="#000"/>
<rect x="251" y="159" width="1" height="21" fill="#000"/>
<rect x="249" y="163" width="5" height="17" fill="#000"/>
<rect x="259" y="170" width="1" height="15" fill="#000"/>
<rect x="257" y="180" width="5" height="5" fill="#000"/>
<rect x="258" y="181" width="3" height="3" fill="#fff"/>
<rect x="267" y="173" width="1" height="42" fill="#000"/>
<rect x="265" y="186" width="5" height="17" fill="#000"/>
<rect x="275" y="198" width="1" height="24" fill="#000"/>
<rect x="273" y="203" width="5" height="16" fill="#000"/>
<rect x="283" y="197" width="1" height="35" fill="#000"/>
<rect x="281" y="197" width="5" height="24" fill="#000"/>
<rect x="282" y="198" width="3" height="22" fill="#fff"/>
<rect x="291" y="190" width="1" height="16" fill="#000"/>
<rect x="289" y="195" width="5" height="4" fill="#000"/>
<rect x="290" y="196" width="3" height="2" fill="#fff"/>
<rect x="299" y="193" width="1" height="26" fill="#000"/>
<rect x="297" y="194" width="5" height="19" fill="#000"/>
<rect x="307" y="208" width="1" height="18" fill="#000"/>
<rect x="305" y="209" width="5" height="10" fill="#000"/>
<rect x="315" y="168" width="1" height="57" fill="#000"/>
<rect x="313" y="181" width="5" height="44" fill="#000"/>
<rect x="314" y="182" width="3" height="42" fill="#fff"/>
<rect x="323" y="177" width="1" height="27" fill="#000"/>
<rect x="321" y="180" width="5" height="6" fill="#000"/>
<rect x="331" y="136" width="1" height="65" fill="#000"/>
<rect x="329" y="171" width="5" height="14" fill="#000"/>
<rect x="330" y="172" width="3" height="12" fill="#fff"/>
<rect x="339" y="156" width="1" height="18" fill="#000"/>
<rect x="337" y="159" width="5" height="14" fill="#000"/>
<rect x="338" y="160" width="3" height="12" fill="#fff"/>
<rect x="347" y="157" width="1" height="27" fill="#000"/>
<rect x="345" y="158" width="5" height="26" fill="#000"/>
<rect x="355" y="159" width="1" height="25" fill="#000"/>
<rect x="353" y="170" width="5" height="6" fill="#000"/>
<rect x="354" y="171" width="3" height="4" fill="#fff"/>
<rect x="363" y="151" width="1" height="65" fill="#000"/>
<rect x="361" y="163" width="5" height="20" fill="#000"/>
<rect x="371" y="168" width="1" height="26" fill="#000"/>
<rect x="369" y="168" width="5" height="15" fill="#000"/>
<rect x="370" y="169" width="3" height="13" fill="#fff"/>
<rect x="379" y="161" width="1" height="13" fill="#000"/>
<rect x="377" y="167" width="5" height="2" fill="#000"/>
<rect x="387" y="168" width="1" height="15" fill="#000"/>
<rect x="385" y="169" width="5" height="7" fill="#000"/>
<rect x="395" y="157" width="1" height="19" fill="#000"/>
<rect x="393" y="157" width="5" height="17" fill="#000"/>
<rect x="394" y="158" width="3" height="15" fill="#fff"/>
<rect x="403" y="132" width="1" height="16" fill="#000"/>
<rect x="401" y="134" width="5" height="9" fill="#000"/>
<rect x="402" y="135" width="3" height="7" fill="#fff"/>
<rect x="411" y="117" width="1" height="51" fill="#000"/>
<rect x="409" y="134" width="5" height="11" fill="#000"/>
<rect x="419" y="117" width="1" height="30" fill="#000"/>
<rect x="417" y="130" width="5" height="16" fill="#000"/>
<rect x="418" y="131" width="3" height="14" fill="#fff"/>
<rect x="427" y="124" width="1" height="16" fill="#000"/>
<rect x="425" y="124" width="5" height="6" fill="#000"/>
<rect x="426" y="125" width="3" height="4" fill="#fff"/>
<rect x="435" y="116" width="1" height="17" fill="#000"/>
<rect x="433" y="124" width="5" height="2" fill="#000"/>
<rect x="443" y="96" width="1" height="31" fill="#000"/>
<rect x="441" y="102" width="5" height="25" fill="#000"/>
<rect x="442" y="103" width="3" height="23" fill="#fff"/>
<rect x="451" y="84" width="1" height="20" fill="#000"/>
<rect x="449" y="93" width="5" height="10" fill="#000"/>
<rect x="459" y="51" width="1" height="61" fill="#000"/>
<rect x="457" y="59" width="5" height="45" fill="#000"/>
<rect x="458" y="60" width="3" height="43" fill="#fff"/>
<rect x="467" y="53" width="1" height="23" fill="#000"/>
<rect x="465" y="60" width="5" height="11" fill="#000"/>
<rect x="475" y="66" width="1" height="19" fill="#000"/>
<rect x="473" y="69" width="5" height="15" fill="#000"/>
<rect x="483" y="75" width="1" height="15" fill="#000"/>
<rect x="481" y="75" width="5" height="10" fill="#000"/>
<rect x="482" y="76" width="3" height="8" fill="#fff"/>
<rect x="491" y="76" width="1" height="15" fill="#000"/>
<rect x="489" y="76" width="5" height="9" fill="#000"/>
<rect x="499" y="85" width="1" height="13" fill="#000"/>
<rect x="497" y="92" width="5" height="3" fill="#000"/>
<rect x="507" y="64" width="1" height="37" fill="#000"/>
<rect x="505" y="94" width="5" height="3" fill="#000"/>
<rect x="515" y="84" width="1" height="26" fill="#000"/>
<rect x="513" y="91" width="5" height="5" fill="#000"/>
<rect x="514" y="92" width="3" height="3" fill="#fff"/>
<rect x="523" y="90" width="1" height="12" fill="#000"/>
<rect x="521" y="92" width="5" height="1" fill="#000"/>
<rect x="531" y="89" width="1" height="44" fill="#000"/>
<rect x="529" y="91" width="5" height="22" fill="#000"/>
<rect x="539" y="65" width="1" height="52" fill="#000"/>
<rect x="537" y="94" width="5" height="19" fill="#000"/>
<rect x="538" y="95" width="3" height="17" fill="#fff"/>
<rect x="547" y="111" width="1" height="29" fill="#000"/>
<rect x="545" y="113" width="5" height="24" fill="#000"/>
<rect x="555" y="125" width="1" height="82" fill="#000"/>
<rect x="553" y="135" width="5" height="51" fill="#000"/>
<rect x="563" y="146" width="1" height="41" fill="#000"/>
<rect x="561" y="151" width="5" height="36" fill="#000"/>
<rect x="562" y="152" width="3" height="34" fill="#fff"/>
<rect x="571" y="122" width="1" height="33" fill="#000"/>
<rect x="569" y="144" width="5" height="9" fill="#000"/>
<rect x="570" y="145" width="3" height="7" fill="#fff"/>
<rect x="579" y="136" width="1" height="43" fill="#000"/>
<rect x="577" y="144" width="5" height="2" fill="#000"/>
<rect x="587" y="121" width="1" height="25" fill="#000"/>
<rect x="585" y="127" width="5" height="19" fill="#000"/>
<rect x="586" y="128" width="3" height="17" fill="#fff"/>
<rect x="595" y="112" width="1" height="28" fill="#000"/>
<rect x="593" y="118" width="5" height="13" fill="#000"/>
<rect x="603" y="129" width="1" height="37" fill="#000"/>
<rect x="601" y="130" width="5" height="36" fill="#000"/>
<rect x="611" y="162" width="1" height="55" fill="#000"/>
<rect x="609" y="166" width="5" height="48" fill="#000"/>
<rect x="619" y="209" width="1" height="60" fill="#000"/>
<rect x="617" y="215" width="5" height="51" fill="#000"/>
<rect x="627" y="246" width="1" height="33" fill="#000"/>
<rect x="625" y="266" width="5" height="13" fill="#000"/>
<rect x="635" y="266" width="1" height="27" fill="#000"/>
<rect x="633" y="279" width="5" height="8" fill="#000"/>
<rect x="643" y="292" width="1" height="31" fill="#000"/>
<rect x="641" y="292" width="5" height="20" fill="#000"/>
<rect x="651" y="317" width="1" height="165" fill="#000"/>
<rect x="649" y="321" width="5" height="114" fill="#000"/>
<rect x="659" y="313" width="1" height="151" fill="#000"/>
<rect x="657" y="318" width="5" height="118" fill="#000"/>
<rect x="658" y="319" width="3" height="116" fill="#fff"/>
<rect x="667" y="290" width="1" height="53" fill="#000"/>
<rect x="665" y="293" width="5" height="25" fill="#000"/>
<rect x="666" y="294" width="3" height="23" fill="#fff"/>
<rect x="675" y="242" width="1" height="61" fill="#000"/>
<rect x="673" y="251" width="5" height="44" fill="#000"/>
<rect x="674" y="252" width="3" height="42" fill="#fff"/>
<rect x="683" y="232" width="1" height="22" fill="#000"/>
<rect x="681" y="233" width="5" height="19" fill="#000"/>
<rect x="682" y="234" width="3" height="17" fill="#fff"/>
<rect x="691" y="221" width="1" height="48" fill="#000"/>
<rect x="689" y="229" width="5" height="25" fill="#000"/>
<rect x="699" y="205" width="1" height="84" fill="#000"/>
<rect x="697" y="216" width="5" height="33" fill="#000"/>
<rect x="698" y="217" width="3" height="31" fill="#fff"/>
<rect x="707" y="198" width="1" height="66" fill="#000"/>
<rect x="705" y="218" width="5" height="25" fill="#000"/>
<rect x="715" y="217" width="1" height="34" fill="#000"/>
<rect x="713" y="226" width="5" height="16" fill="#000"/>
<rect x="714" y="227" width="3" height="14" fill="#fff"/>
<rect x="723" y="209" width="1" height="22" fill="#000"/>
<rect x="721" y="215" width="5" height="11" fill="#000"/>
<rect x="722" y="216" width="3" height="9" fill="#fff"/>
<rect x="731" y="196" width="1" height="23" fill="#000"/>
<rect x="729" y="207" width="5" height="8" fill="#000"/>
<rect x="730" y="208" width="3" height="6" fill="#fff"/>
<rect x="739" y="182" width="1" height="22" fill="#000"/>
<rect x="737" y="197" width="5" height="7" fill="#000"/>
<rect x="738" y="198" width="3" height="5" fill="#fff"/>
<rect x="747" y="171" width="1" height="38" fill="#000"/>
<rect x="745" y="197" width="5" height="2" fill="#000"/>
<rect x="755" y="193" width="1" height="45" fill="#000"/>
<rect x="753" y="197" width="5" height="23" fill="#000"/>
<rect x="763" y="218" width="1" height="26" fill="#000"/>
<rect x="761" y="220" width="5" height="9" fill="#000"/>
<rect x="771" y="225" width="1" height="18" fill="#000"/>
<rect x="769" y="227" width="5" height="4" fill="#000"/>
<rect x="779" y="222" width="1" height="25" fill="#000"/>
<rect x="777" y="228" width="5" height="2" fill="#000"/>
<rect x="787" y="215" width="1" height="18" fill="#000"/>
<rect x="785" y="217" width="5" height="4" fill="#000"/>
<rect x="795" y="188" width="1" height="46" fill="#000"/>
<rect x="793" y="197" width="5" height="25" fill="#000"/>
<rect x="794" y="198" width="3" height="23" fill="#fff"/>
<rect x="803" y="190" width="1" height="26" fill="#000"/>
<rect x="801" y="193" width="5" height="6" fill="#000"/>
<rect x="802" y="194" width="3" height="4" fill="#fff"/>
<rect x="811" y="180" width="1" height="25" fill="#000"/>
<rect x="809" y="186" width="5" height="9" fill="#000"/>
<rect x="810" y="187" width="3" height="7" fill="#fff"/>
<rect x="819" y="165" width="1" height="27" fill="#000"/>
<rect x="817" y="168" width="5" height="18" fill="#000"/>
<rect x="818" y="169" width="3" height="16" fill="#fff"/>
<rect x="827" y="135" width="1" height="41" fill="#000"/>
<rect x="825" y="153" width="5" height="16" fill="#000"/>
<rect x="826" y="154" width="3" height="14" fill="#fff"/>
<rect x="835" y="145" width="1" height="17" fill="#000"/>
<rect x="833" y="148" width="5" height="5" fill="#000"/>
<rect x="834" y="149" width="3" height="3" fill="#fff"/>
<rect x="843" y="132" width="1" height="44" fill="#000"/>
<rect x="841" y="143" width="5" height="7" fill="#000"/>
<rect x="851" y="145" width="1" height="29" fill="#000"/>
<rect x="849" y="148" width="5" height="18" fill="#000"/>
<rect x="859" y="159" width="1" height="13" fill="#000"/>
<rect x="857" y="161" width="5" height="3" fill="#000"/>
<rect x="858" y="162" width="3" height="1" fill="#fff"/>
<rect x="867" y="152" width="1" height="16" fill="#000"/>
<rect x="865" y="160" width="5" height="1" fill="#000"/>
<rect x="875" y="157" width="1" height="7" fill="#000"/>
<rect x="873" y="161" width="5" height="1" fill="#000"/>
<rect x="883" y="145" width="1" height="18" fill="#000"/>
<rect x="881" y="146" width="5" height="10" fill="#000"/>
<rect x="882" y="147" width="3" height="8" fill="#fff"/>
<rect x="891" y="142" width="1" height="34" fill="#000"/>
<rect x="889" y="147" width="5" height="19" fill="#000"/>
<rect x="899" y="160" width="1" height="23" fill="#000"/>
<rect x="897" y="163" width="5" height="12" fill="#000"/>
<rect x="907" y="160" width="1" height="26" fill="#000"/>
<rect x="905" y="174" width="5" height="5" fill="#000"/>
<rect x="915" y="177" width="1" height="20" fill="#000"/>
<rect x="913" y="179" width="5" height="3" fill="#000"/>
<rect x="923" y="178" width="1" height="15" fill="#000"/>
<rect x="921" y="180" width="5" height="7" fill="#000"/>
<rect x="931" y="187" width="1" height="11" fill="#000"/>
<rect x="929" y="190" width="5" height="1" fill="#000"/>
<rect x="939" y="181" width="1" height="56" fill="#000"/>
<rect x="937" y="188" width="5" height="41" fill="#000"/>
<rect x="947" y="192" width="1" height="37" fill="#000"/>
<rect x="945" y="202" width="5" height="26" fill="#000"/>
<rect x="946" y="203" width="3" height="24" fill="#fff"/>
<rect x="955" y="188" width="1" height="21" fill="#000"/>
<rect x="953" y="190" width="5" height="12" fill="#000"/>
<rect x="954" y="191" width="3" height="10" fill="#fff"/>
<rect x="963" y="191" width="1" height="18" fill="#000"/>
<rect x="961" y="191" width="5" height="15" fill="#000"/>
<rect x="971" y="195" width="1" height="16" fill="#000"/>
<rect x="969" y="200" width="5" height="6" fill="#000"/>
<rect x="970" y="201" width="3" height="4" fill="#fff"/>
<rect x="979" y="192" width="1" height="18" fill="#000"/>
<rect x="977" y="193" width="5" height="13" fill="#000"/>
<rect x="978" y="194" width="3" height="11" fill="#fff"/>
<rect x="987" y="162" width="1" height="62" fill="#000"/>
<rect x="985" y="194" width="5" height="18" fill="#000"/>
<rect x="995" y="203" width="1" height="79" fill="#000"/>
<rect x="993" y="212" width="5" height="44" fill="#000"/>
<rect x="1003" y="228" width="1" height="32" fill="#000"/>
<rect x="1001" y="235" width="5" height="21" fill="#000"/>
<rect x="1002" y="236" width="3" height="19" fill="#fff"/>
<rect x="1011" y="231" width="1" height="16" fill="#000"/>
<rect x="1009" y="236" width="5" height="8" fill="#000"/>
<rect x="1019" y="215" width="1" height="31" fill="#000"/>
<rect x="1017" y="220" width="5" height="23" fill="#000"/>
<rect x="1018" y="221" width="3" height="21" fill="#fff"/>
<rect x="1027" y="197" width="1" height="22" fill="#000"/>
<rect x="1025" y="199" width="5" height="9" fill="#000"/>
<rect x="1035" y="206" width="1" height="63" fill="#000"/>
<rect x="1033" y="206" width="5" height="43" fill="#000"/>
<rect x="1043" y="217" width="1" height="53" fill="#000"/>
<rect x="1041" y="247" width="5" height="20" fill="#000"/>
<rect x="1051" y="226" width="1" height="47" fill="#000"/>
<rect x="1049" y="232" width="5" height="33" fill="#000"/>
<rect x="1050" y="233" width="3" height="31" fill="#fff"/>
<rect x="1059" y="226" width="1" height="26" fill="#000"/>
<rect x="1057" y="228" width="5" height="6" fill="#000"/>
<rect x="1058" y="229" width="3" height="4" fill="#fff"/>
<rect x="1067" y="215" width="1" height="16" fill="#000"/>
<rect x="1065" y="225" width="5" height="3" fill="#000"/>
<rect x="1066" y="226" width="3" height="1" fill="#fff"/>
<rect x="1075" y="220" width="1" height="22" fill="#000"/>
<rect x="1073" y="220" width="5" height="20" fill="#000"/>
<rect x="1083" y="205" width="1" height="41" fill="#000"/>
<rect x="1081" y="220" width="5" height="21" fill="#000"/>
<rect x="1082" y="221" width="3" height="19" fill="#fff"/>
<rect x="1091" y="212" width="1" height="21" fill="#000"/>
<rect x="1089" y="218" width="5" height="6" fill="#000"/>
<rect x="1099" y="206" width="1" height="23" fill="#000"/>
<rect x="1097" y="222" width="5" height="4" fill="#000"/>
<rect x="1107" y="216" width="1" height="15" fill="#000"/>
<rect x="1105" y="225" width="5" height="2" fill="#000"/>
<rect x="1115" y="217" width="1" height="10" fill="#000"/>
<rect x="1113" y="223" width="5" height="2" fill="#000"/>
<rect x="1123" y="222" width="1" height="20" fill="#000"/>
<rect x="1121" y="225" width="5" height="11" fill="#000"/>
<rect x="1131" y="233" width="1" height="40" fill="#000"/>
<rect x="1129" y="237" width="5" height="27" fill="#000"/>
<rect x="1139" y="256" width="1" height="34" fill="#000"/>
<rect x="1137" y="262" width="5" height="2" fill="#000"/>
<rect x="1147" y="251" width="1" height="14" fill="#000"/>
<rect x="1145" y="253" width="5" height="11" fill="#000"/>
<rect x="1146" y="254" width="3" height="9" fill="#fff"/>
<rect x="1155" y="251" width="1" height="7" fill="#000"/>
<rect x="1153" y="253" width="5" height="3" fill="#000"/>
<rect x="1163" y="250" width="1" height="7" fill="#000"/>
<rect x="1161" y="251" width="5" height="6" fill="#000"/>
<rect x="1162" y="252" width="3" height="4" fill="#fff"/>
<rect x="1171" y="235" width="1" height="21" fill="#000"/>
<rect x="1169" y="243" width="5" height="4" fill="#000"/>
<rect x="1170" y="244" width="3" height="2" fill="#fff"/>
<rect x="1179" y="228" width="1" height="44" fill="#000"/>
<rect x="1177" y="243" width="5" height="4" fill="#000"/>
<rect x="1178" y="244" width="3" height="2" fill="#fff"/>
<rect x="1187" y="240" width="1" height="40" fill="#000"/>
<rect x="1185" y="243" width="5" height="32" fill="#000"/>
<rect x="1195" y="262" width="1" height="75" fill="#000"/>
<rect x="1193" y="275" width="5" height="59" fill="#000"/>
<rect x="1203" y="314" width="1" height="37" fill="#000"/>
<rect x="1201" y="319" width="5" height="16" fill="#000"/>
<rect x="1202" y="320" width="3" height="14" fill="#fff"/>
<rect x="1211" y="301" width="1" height="27" fill="#000"/>
<rect x="1209" y="319" width="5" height="9" fill="#000"/>
<rect x="1219" y="332" width="1" height="40" fill="#000"/>
<rect x="1217" y="337" width="5" height="23" fill="#000"/>
<rect x="1227" y="308" width="1" height="75" fill="#000"/>
<rect x="1225" y="328" width="5" height="29" fill="#000"/>
<rect x="1226" y="329" width="3" height="27" fill="#fff"/>
<rect x="1235" y="293" width="1" height="62" fill="#000"/>
<rect x="1233" y="309" width="5" height="21" fill="#000"/>
<rect x="1234" y="310" width="3" height="19" fill="#fff"/>
<rect x="1243" y="297" width="1" height="45" fill="#000"/>
<rect x="1241" y="308" width="5" height="24" fill="#000"/>
<rect x="1251" y="303" width="1" height="31" fill="#000"/>
<rect x="1249" y="326" width="5" height="5" fill="#000"/>
<rect x="1250" y="327" width="3" height="3" fill="#fff"/>
<rect x="1259" y="316" width="1" height="17" fill="#000"/>
<rect x="1257" y="324" width="5" height="2" fill="#000"/>
<rect x="1267" y="333" width="1" height="15" fill="#000"/>
<rect x="1265" y="337" width="5" height="4" fill="#000"/>
<rect x="1266" y="338" width="3" height="2" fill="#fff"/>
<rect x="1275" y="322" width="1" height="66" fill="#000"/>
<rect x="1273" y="338" width="5" height="38" fill="#000"/>
<rect x="1283" y="364" width="1" height="156" fill="#000"/>
<rect x="1281" y="375" width="5" height="134" fill="#000"/>
<rect x="1291" y="489" width="1" height="51" fill="#000"/>
<rect x="1289" y="509" width="5" height="1" fill="#000"/>
<rect x="1299" y="449" width="1" height="68" fill="#000"/>
<rect x="1297" y="479" width="5" height="31" fill="#000"/>
<rect x="1298" y="480" width="3" height="29" fill="#fff"/>
<rect x="1307" y="470" width="1" height="34" fill="#000"/>
<rect x="1305" y="476" width="5" height="5" fill="#000"/>
<rect x="1306" y="477" width="3" height="3" fill="#fff"/>
<rect x="1315" y="468" width="1" height="38" fill="#000"/>
<rect x="1313" y="471" width="5" height="33" fill="#000"/>
<rect x="1323" y="449" width="1" height="115" fill="#000"/>
<rect x="1321" y="503" width="5" height="25" fill="#000"/>
<rect x="1331" y="316" width="1" height="211" fill="#000"/>
<rect x="1329" y="327" width="5" height="200" fill="#000"/>
<rect x="1330" y="328" width="3" height="198" fill="#fff"/>
<rect x="1339" y="291" width="1" height="41" fill="#000"/>
<rect x="1337" y="293" width="5" height="34" fill="#000"/>
<rect x="1338" y="294" width="3" height="32" fill="#fff"/>
<rect x="1347" y="268" width="1" height="32" fill="#000"/>
<rect x="1345" y="268" width="5" height="26" fill="#000"/>
<rect x="1346" y="269" width="3" height="24" fill="#fff"/>
<rect x="1355" y="271" width="1" height="13" fill="#000"/>
<rect x="1353" y="271" width="5" height="7" fill="#000"/>
<rect x="1363" y="268" width="1" height="33" fill="#000"/>
<rect x="1361" y="286" width="5" height="15" fill="#000"/>
<rect x="1362" y="287" width="3" height="13" fill="#fff"/>
<rect x="1371" y="265" width="1" height="37" fill="#000"/>
<rect x="1369" y="270" width="5" height="6" fill="#000"/>
<rect x="1379" y="274" width="1" height="43" fill="#000"/>
<rect x="1377" y="277" width="5" height="22" fill="#000"/>
<rect x="1387" y="259" width="1" height="51" fill="#000"/>
<rect x="1385" y="261" width="5" height="44" fill="#000"/>
<rect x="1386" y="262" width="3" height="42" fill="#fff"/>
</g>
</g>
<rect x="1330" y="267" width="127" height="10" fill="#00ff00" shape-rendering="crispEdges"/>
<rect x="1460.5" y="278.5" width="110" height="24" fill="none" stroke="#404040" stroke-width="1" shape-rendering="crispEdges"/>
<rect x="1513.5" y="276.5" width="2" height="2" fill="#fff" stroke="#32cd32" stroke-width="1" shape-rendering="crispEdges"/>
<text x="1461.5" y="297" font-size="20" fill="#00ff00" textLength="106" lengthAdjust="spacingAndGlyphs" font-weight="300" style="font-family:'Liberation Sans','Noto Serif CJK SC',serif">多空转折点</text>
<line x1="1237.0" y1="304.0" x2="1313.3" y2="545.4" stroke="#ff0000" stroke-width="3.4" stroke-linecap="round"/><polygon points="1316.0,554.0 1307.1,544.2 1313.3,545.4 1317.6,540.9" fill="#ff0000"/>
<line x1="1317.0" y1="552.0" x2="1362.8" y2="277.9" stroke="#ff0000" stroke-width="4.0" stroke-linecap="round"/><polygon points="1364.3,269.0 1368.2,281.8 1362.8,277.9 1356.4,279.8" fill="#ff0000"/>
<line x1="1364.5" y1="272.0" x2="1378.7" y2="303.7" stroke="#ff0000" stroke-width="4.0" stroke-linecap="round"/><polygon points="1382.0,311.0 1371.6,303.6 1378.7,303.7 1383.4,298.3" fill="#ff0000"/>
<line x1="1382.0" y1="310.0" x2="1403.7" y2="265.4" stroke="#ff0000" stroke-width="4.0" stroke-linecap="round"/><polygon points="1407.6,257.3 1407.8,270.7 1403.7,265.4 1397.0,265.5" fill="#ff0000"/>
<g shape-rendering="crispEdges">
<rect x="0" y="24" width="1654" height="1" fill="#000"/>
<rect x="0" y="577" width="1654" height="1" fill="#000"/>
<rect x="0" y="579" width="1654" height="1" fill="#000"/>
<rect x="0" y="749" width="1654" height="1" fill="#000"/>
<rect x="0" y="751" width="1654" height="1" fill="#000"/>
<rect x="0" y="925" width="1654" height="1" fill="#000"/>
<rect x="1653" y="24" width="1" height="554" fill="#000"/>
<rect x="1653" y="579" width="1" height="171" fill="#000"/>
<rect x="1653" y="751" width="1" height="175" fill="#000"/>
<rect x="1699" y="21" width="1" height="922" fill="#e3e3e3"/>
<rect x="1654" y="46" width="2" height="1" fill="#000"/>
<rect x="1654" y="79" width="2" height="1" fill="#000"/>
<rect x="1654" y="112" width="2" height="1" fill="#000"/>
<rect x="1654" y="145" width="2" height="1" fill="#000"/>
<rect x="1654" y="178" width="2" height="1" fill="#000"/>
<rect x="1654" y="211" width="2" height="1" fill="#000"/>
<rect x="1654" y="244" width="2" height="1" fill="#000"/>
<rect x="1654" y="277" width="2" height="1" fill="#000"/>
<rect x="1654" y="310" width="2" height="1" fill="#000"/>
<rect x="1654" y="343" width="2" height="1" fill="#000"/>
<rect x="1654" y="376" width="2" height="1" fill="#000"/>
<rect x="1654" y="409" width="2" height="1" fill="#000"/>
<rect x="1654" y="442" width="2" height="1" fill="#000"/>
<rect x="1654" y="475" width="2" height="1" fill="#000"/>
<rect x="1654" y="508" width="2" height="1" fill="#000"/>
<rect x="1654" y="541" width="2" height="1" fill="#000"/>
<rect x="1654" y="574" width="2" height="1" fill="#000"/>
<rect x="1654" y="581" width="1" height="1" fill="#000"/>
<rect x="1654" y="635" width="1" height="1" fill="#000"/>
<rect x="1654" y="748" width="1" height="1" fill="#000"/>
<rect x="1654" y="753" width="1" height="1" fill="#000"/>
<rect x="1654" y="787" width="1" height="1" fill="#000"/>
<rect x="1654" y="838" width="1" height="1" fill="#000"/>
<rect x="1654" y="899" width="1" height="1" fill="#000"/>
<rect x="1654" y="924" width="1" height="1" fill="#000"/>
<rect x="59" y="926" width="1" height="3" fill="#000"/>
<rect x="123" y="926" width="1" height="3" fill="#000"/>
<rect x="187" y="926" width="1" height="3" fill="#000"/>
<rect x="251" y="926" width="1" height="3" fill="#000"/>
<rect x="315" y="926" width="1" height="3" fill="#000"/>
<rect x="379" y="926" width="1" height="3" fill="#000"/>
<rect x="443" y="926" width="1" height="3" fill="#000"/>
<rect x="507" y="926" width="1" height="3" fill="#000"/>
<rect x="571" y="926" width="1" height="3" fill="#000"/>
<rect x="635" y="926" width="1" height="3" fill="#000"/>
<rect x="699" y="926" width="1" height="3" fill="#000"/>
<rect x="763" y="926" width="1" height="3" fill="#000"/>
<rect x="827" y="926" width="1" height="3" fill="#000"/>
<rect x="891" y="926" width="1" height="3" fill="#000"/>
<rect x="955" y="926" width="1" height="3" fill="#000"/>
<rect x="1019" y="926" width="1" height="3" fill="#000"/>
<rect x="1083" y="926" width="1" height="3" fill="#000"/>
<rect x="1147" y="926" width="1" height="3" fill="#000"/>
<rect x="1211" y="926" width="1" height="3" fill="#000"/>
<rect x="1275" y="926" width="1" height="3" fill="#000"/>
<rect x="1339" y="926" width="1" height="3" fill="#000"/>
</g>
<text x="1659" y="50" font-size="9.6" fill="#000" stroke="#000" stroke-width="0.1" textLength="33" lengthAdjust="spacingAndGlyphs">29454.0</text>
<text x="1659" y="83" font-size="9.6" fill="#000" stroke="#000" stroke-width="0.1" textLength="33" lengthAdjust="spacingAndGlyphs">29321.0</text>
<text x="1659" y="116" font-size="9.6" fill="#000" stroke="#000" stroke-width="0.1" textLength="33" lengthAdjust="spacingAndGlyphs">29188.0</text>
<text x="1659" y="149" font-size="9.6" fill="#000" stroke="#000" stroke-width="0.1" textLength="33" lengthAdjust="spacingAndGlyphs">29055.0</text>
<text x="1659" y="182" font-size="9.6" fill="#000" stroke="#000" stroke-width="0.1" textLength="33" lengthAdjust="spacingAndGlyphs">28925.5</text>
<text x="1659" y="215" font-size="9.6" fill="#000" stroke="#000" stroke-width="0.1" textLength="33" lengthAdjust="spacingAndGlyphs">28792.5</text>
<text x="1659" y="248" font-size="9.6" fill="#000" stroke="#000" stroke-width="0.1" textLength="33" lengthAdjust="spacingAndGlyphs">28659.5</text>
<text x="1659" y="281" font-size="9.6" fill="#000" stroke="#000" stroke-width="0.1" textLength="33" lengthAdjust="spacingAndGlyphs">28526.5</text>
<text x="1659" y="314" font-size="9.6" fill="#000" stroke="#000" stroke-width="0.1" textLength="33" lengthAdjust="spacingAndGlyphs">28393.5</text>
<text x="1659" y="347" font-size="9.6" fill="#000" stroke="#000" stroke-width="0.1" textLength="33" lengthAdjust="spacingAndGlyphs">28264.0</text>
<text x="1659" y="380" font-size="9.6" fill="#000" stroke="#000" stroke-width="0.1" textLength="33" lengthAdjust="spacingAndGlyphs">28131.0</text>
<text x="1659" y="413" font-size="9.6" fill="#000" stroke="#000" stroke-width="0.1" textLength="33" lengthAdjust="spacingAndGlyphs">27998.0</text>
<text x="1659" y="446" font-size="9.6" fill="#000" stroke="#000" stroke-width="0.1" textLength="33" lengthAdjust="spacingAndGlyphs">27865.0</text>
<text x="1659" y="479" font-size="9.6" fill="#000" stroke="#000" stroke-width="0.1" textLength="33" lengthAdjust="spacingAndGlyphs">27732.0</text>
<text x="1659" y="512" font-size="9.6" fill="#000" stroke="#000" stroke-width="0.1" textLength="33" lengthAdjust="spacingAndGlyphs">27599.0</text>
<text x="1659" y="545" font-size="9.6" fill="#000" stroke="#000" stroke-width="0.1" textLength="33" lengthAdjust="spacingAndGlyphs">27469.5</text>
<text x="1659" y="578" font-size="9.6" fill="#000" stroke="#000" stroke-width="0.1" textLength="33" lengthAdjust="spacingAndGlyphs">27336.5</text>
<g shape-rendering="crispEdges">
<rect x="1655" y="210" width="41" height="11" fill="#ff0000"/>
<rect x="1655" y="235" width="41" height="11" fill="#ff0000"/>
<rect x="1655" y="255" width="41" height="11" fill="#000000"/>
<rect x="1655" y="265" width="41" height="11" fill="#32cd32"/>
<rect x="1655" y="285" width="41" height="11" fill="#0000ff"/>
<rect x="1655" y="306" width="41" height="11" fill="#0000ff"/>
</g>
<text x="1659" y="219" font-size="9.6" fill="#fff" stroke="#fff" stroke-width="0.1" textLength="33" lengthAdjust="spacingAndGlyphs">28771.3</text>
<text x="1659" y="244" font-size="9.6" fill="#fff" stroke="#fff" stroke-width="0.1" textLength="33" lengthAdjust="spacingAndGlyphs">28671.2</text>
<text x="1659" y="264" font-size="9.6" fill="#fff" stroke="#fff" stroke-width="0.1" textLength="33" lengthAdjust="spacingAndGlyphs">28592.5</text>
<text x="1659" y="274" font-size="9.6" fill="#fff" stroke="#fff" stroke-width="0.1" textLength="33" lengthAdjust="spacingAndGlyphs">28551.1</text>
<text x="1659" y="294" font-size="9.6" fill="#fff" stroke="#fff" stroke-width="0.1" textLength="33" lengthAdjust="spacingAndGlyphs">28471.0</text>
<text x="1659" y="315" font-size="9.6" fill="#fff" stroke="#fff" stroke-width="0.1" textLength="33" lengthAdjust="spacingAndGlyphs">28387.0</text>
<text x="1657.5" y="590" font-size="9.6" fill="#000" stroke="#000" stroke-width="0.1" textLength="27.5" lengthAdjust="spacingAndGlyphs">136.91</text>
<text x="1657.5" y="639" font-size="9.6" fill="#000" stroke="#000" stroke-width="0.1" textLength="18" lengthAdjust="spacingAndGlyphs">0.00</text>
<text x="1657" y="746" font-size="9.6" fill="#000" stroke="#000" stroke-width="0.1" textLength="31" lengthAdjust="spacingAndGlyphs">-286.54</text>
<text x="1657.5" y="762" font-size="9.6" fill="#000" stroke="#000" stroke-width="0.1" textLength="14.5" lengthAdjust="spacingAndGlyphs">100</text>
<text x="1657.5" y="791" font-size="9.6" fill="#000" stroke="#000" stroke-width="0.1" textLength="9.5" lengthAdjust="spacingAndGlyphs">80</text>
<text x="1657.5" y="842" font-size="9.6" fill="#000" stroke="#000" stroke-width="0.1" textLength="9.5" lengthAdjust="spacingAndGlyphs">50</text>
<text x="1657.5" y="903" font-size="9.6" fill="#000" stroke="#000" stroke-width="0.1" textLength="9.5" lengthAdjust="spacingAndGlyphs">15</text>
<text x="1657.5" y="922" font-size="9.6" fill="#000" stroke="#000" stroke-width="0.1" textLength="4.7" lengthAdjust="spacingAndGlyphs">0</text>
<text x="-6" y="938" font-size="9.6" fill="#000" stroke="#000" stroke-width="0.1" textLength="43.5" lengthAdjust="spacingAndGlyphs">1 Jun 2021</text>
<text x="58" y="938" font-size="9.6" fill="#000" stroke="#000" stroke-width="0.1" textLength="48.3" lengthAdjust="spacingAndGlyphs">2 Jun 18:55</text>
<text x="122" y="938" font-size="9.6" fill="#000" stroke="#000" stroke-width="0.1" textLength="48.3" lengthAdjust="spacingAndGlyphs">4 Jun 00:00</text>
<text x="186" y="938" font-size="9.6" fill="#000" stroke="#000" stroke-width="0.1" textLength="48.3" lengthAdjust="spacingAndGlyphs">7 Jun 10:55</text>
<text x="250" y="938" font-size="9.6" fill="#000" stroke="#000" stroke-width="0.1" textLength="48.3" lengthAdjust="spacingAndGlyphs">8 Jun 17:00</text>
<text x="314" y="938" font-size="9.6" fill="#000" stroke="#000" stroke-width="0.1" textLength="52.5" lengthAdjust="spacingAndGlyphs">10 Jun 00:00</text>
<text x="378" y="938" font-size="9.6" fill="#000" stroke="#000" stroke-width="0.1" textLength="52.5" lengthAdjust="spacingAndGlyphs">11 Jun 10:55</text>
<text x="442" y="938" font-size="9.6" fill="#000" stroke="#000" stroke-width="0.1" textLength="52.5" lengthAdjust="spacingAndGlyphs">14 Jun 18:55</text>
<text x="506" y="938" font-size="9.6" fill="#000" stroke="#000" stroke-width="0.1" textLength="52.5" lengthAdjust="spacingAndGlyphs">16 Jun 00:00</text>
<text x="570" y="938" font-size="9.6" fill="#000" stroke="#000" stroke-width="0.1" textLength="52.5" lengthAdjust="spacingAndGlyphs">17 Jun 10:55</text>
<text x="634" y="938" font-size="9.6" fill="#000" stroke="#000" stroke-width="0.1" textLength="52.5" lengthAdjust="spacingAndGlyphs">18 Jun 18:55</text>
<text x="698" y="938" font-size="9.6" fill="#000" stroke="#000" stroke-width="0.1" textLength="52.5" lengthAdjust="spacingAndGlyphs">22 Jun 00:00</text>
<text x="762" y="938" font-size="9.6" fill="#000" stroke="#000" stroke-width="0.1" textLength="52.5" lengthAdjust="spacingAndGlyphs">23 Jun 10:55</text>
<text x="826" y="938" font-size="9.6" fill="#000" stroke="#000" stroke-width="0.1" textLength="52.5" lengthAdjust="spacingAndGlyphs">24 Jun 18:55</text>
<text x="890" y="938" font-size="9.6" fill="#000" stroke="#000" stroke-width="0.1" textLength="52.5" lengthAdjust="spacingAndGlyphs">28 Jun 00:00</text>
<text x="954" y="938" font-size="9.6" fill="#000" stroke="#000" stroke-width="0.1" textLength="52.5" lengthAdjust="spacingAndGlyphs">29 Jun 10:55</text>
<text x="1018" y="938" font-size="9.6" fill="#000" stroke="#000" stroke-width="0.1" textLength="52.5" lengthAdjust="spacingAndGlyphs">30 Jun 18:55</text>
<text x="1082" y="938" font-size="9.6" fill="#000" stroke="#000" stroke-width="0.1" textLength="45.3" lengthAdjust="spacingAndGlyphs">2 Jul 00:00</text>
<text x="1146" y="938" font-size="9.6" fill="#000" stroke="#000" stroke-width="0.1" textLength="45.3" lengthAdjust="spacingAndGlyphs">5 Jul 10:55</text>
<text x="1210" y="938" font-size="9.6" fill="#000" stroke="#000" stroke-width="0.1" textLength="45.3" lengthAdjust="spacingAndGlyphs">6 Jul 18:55</text>
<text x="1274" y="938" font-size="9.6" fill="#000" stroke="#000" stroke-width="0.1" textLength="45.3" lengthAdjust="spacingAndGlyphs">8 Jul 00:00</text>
<text x="1338" y="938" font-size="9.6" fill="#000" stroke="#000" stroke-width="0.1" textLength="45.3" lengthAdjust="spacingAndGlyphs">9 Jul 10:55</text>
<polygon points="0,35 2.5,31.5 5,35" fill="#000"/>
<text x="10" y="36" font-size="9.6" fill="#000" stroke="#000" stroke-width="0.1" textLength="197" lengthAdjust="spacingAndGlyphs" xml:space="preserve">JPN225-,H4&#160; 28417.5 28602.5 28397.5 28592.5</text>
<text x="0" y="592" font-size="9.6" fill="#000" stroke="#000" stroke-width="0.1" textLength="120" lengthAdjust="spacingAndGlyphs">MACD(12,26,9) 29.06 -89.98</text>
<text x="0" y="764" font-size="9.6" fill="#000" stroke="#000" stroke-width="0.1" textLength="67" lengthAdjust="spacingAndGlyphs">RSI(14) 58.9138</text>
<polygon points="1397,25 1407,25 1402,30" fill="#c0c0c0"/>
<g shape-rendering="crispEdges">
<rect x="3" y="613" width="1" height="23" fill="#c0c0c0"/>
<rect x="11" y="619" width="1" height="17" fill="#c0c0c0"/>
<rect x="19" y="625" width="1" height="11" fill="#c0c0c0"/>
<rect x="27" y="622" width="1" height="14" fill="#c0c0c0"/>
<rect x="35" y="621" width="1" height="15" fill="#c0c0c0"/>
<rect x="43" y="619" width="1" height="17" fill="#c0c0c0"/>
<rect x="51" y="621" width="1" height="15" fill="#c0c0c0"/>
<rect x="59" y="623" width="1" height="13" fill="#c0c0c0"/>
<rect x="67" y="623" width="1" height="13" fill="#c0c0c0"/>
<rect x="75" y="618" width="1" height="18" fill="#c0c0c0"/>
<rect x="83" y="619" width="1" height="17" fill="#c0c0c0"/>
<rect x="91" y="618" width="1" height="18" fill="#c0c0c0"/>
<rect x="99" y="619" width="1" height="17" fill="#c0c0c0"/>
<rect x="107" y="617" width="1" height="19" fill="#c0c0c0"/>
<rect x="115" y="620" width="1" height="16" fill="#c0c0c0"/>
<rect x="123" y="621" width="1" height="15" fill="#c0c0c0"/>
<rect x="131" y="620" width="1" height="16" fill="#c0c0c0"/>
<rect x="139" y="618" width="1" height="18" fill="#c0c0c0"/>
<rect x="147" y="614" width="1" height="22" fill="#c0c0c0"/>
<rect x="155" y="611" width="1" height="25" fill="#c0c0c0"/>
<rect x="163" y="605" width="1" height="31" fill="#c0c0c0"/>
<rect x="171" y="607" width="1" height="29" fill="#c0c0c0"/>
<rect x="179" y="609" width="1" height="27" fill="#c0c0c0"/>
<rect x="187" y="612" width="1" height="24" fill="#c0c0c0"/>
<rect x="195" y="611" width="1" height="25" fill="#c0c0c0"/>
<rect x="203" y="610" width="1" height="26" fill="#c0c0c0"/>
<rect x="211" y="610" width="1" height="26" fill="#c0c0c0"/>
<rect x="219" y="615" width="1" height="21" fill="#c0c0c0"/>
<rect x="227" y="616" width="1" height="20" fill="#c0c0c0"/>
<rect x="235" y="619" width="1" height="17" fill="#c0c0c0"/>
<rect x="243" y="622" width="1" height="14" fill="#c0c0c0"/>
<rect x="251" y="627" width="1" height="9" fill="#c0c0c0"/>
<rect x="259" y="631" width="1" height="5" fill="#c0c0c0"/>
<rect x="267" y="635" width="1" height="1" fill="#c0c0c0"/>
<rect x="275" y="635" width="1" height="7" fill="#c0c0c0"/>
<rect x="283" y="635" width="1" height="10" fill="#c0c0c0"/>
<rect x="291" y="635" width="1" height="11" fill="#c0c0c0"/>
<rect x="299" y="635" width="1" height="15" fill="#c0c0c0"/>
<rect x="307" y="635" width="1" height="18" fill="#c0c0c0"/>
<rect x="315" y="635" width="1" height="15" fill="#c0c0c0"/>
<rect x="323" y="635" width="1" height="14" fill="#c0c0c0"/>
<rect x="331" y="635" width="1" height="10" fill="#c0c0c0"/>
<rect x="339" y="635" width="1" height="6" fill="#c0c0c0"/>
<rect x="347" y="635" width="1" height="6" fill="#c0c0c0"/>
<rect x="355" y="635" width="1" height="4" fill="#c0c0c0"/>
<rect x="363" y="635" width="1" height="4" fill="#c0c0c0"/>
<rect x="371" y="635" width="1" height="2" fill="#c0c0c0"/>
<rect x="379" y="635" width="1" height="1" fill="#c0c0c0"/>
<rect x="387" y="635" width="1" height="1" fill="#c0c0c0"/>
<rect x="395" y="634" width="1" height="2" fill="#c0c0c0"/>
<rect x="403" y="629" width="1" height="7" fill="#c0c0c0"/>
<rect x="411" y="627" width="1" height="9" fill="#c0c0c0"/>
<rect x="419" y="623" width="1" height="13" fill="#c0c0c0"/>
<rect x="427" y="620" width="1" height="16" fill="#c0c0c0"/>
<rect x="435" y="617" width="1" height="19" fill="#c0c0c0"/>
<rect x="443" y="613" width="1" height="23" fill="#c0c0c0"/>
<rect x="451" y="609" width="1" height="27" fill="#c0c0c0"/>
<rect x="459" y="602" width="1" height="34" fill="#c0c0c0"/>
<rect x="467" y="597" width="1" height="39" fill="#c0c0c0"/>
<rect x="475" y="596" width="1" height="40" fill="#c0c0c0"/>
<rect x="483" y="594" width="1" height="42" fill="#c0c0c0"/>
<rect x="491" y="595" width="1" height="41" fill="#c0c0c0"/>
<rect x="499" y="597" width="1" height="39" fill="#c0c0c0"/>
<rect x="507" y="600" width="1" height="36" fill="#c0c0c0"/>
<rect x="515" y="601" width="1" height="35" fill="#c0c0c0"/>
<rect x="523" y="603" width="1" height="33" fill="#c0c0c0"/>
<rect x="531" y="607" width="1" height="29" fill="#c0c0c0"/>
<rect x="539" y="608" width="1" height="28" fill="#c0c0c0"/>
<rect x="547" y="615" width="1" height="21" fill="#c0c0c0"/>
<rect x="555" y="627" width="1" height="9" fill="#c0c0c0"/>
<rect x="563" y="632" width="1" height="4" fill="#c0c0c0"/>
<rect x="571" y="635" width="1" height="1" fill="#c0c0c0"/>
<rect x="579" y="635" width="1" height="1" fill="#c0c0c0"/>
<rect x="587" y="635" width="1" height="1" fill="#c0c0c0"/>
<rect x="595" y="635" width="1" height="1" fill="#c0c0c0"/>
<rect x="603" y="635" width="1" height="6" fill="#c0c0c0"/>
<rect x="611" y="635" width="1" height="15" fill="#c0c0c0"/>
<rect x="619" y="635" width="1" height="29" fill="#c0c0c0"/>
<rect x="627" y="635" width="1" height="41" fill="#c0c0c0"/>
<rect x="635" y="635" width="1" height="52" fill="#c0c0c0"/>
<rect x="643" y="635" width="1" height="62" fill="#c0c0c0"/>
<rect x="651" y="635" width="1" height="85" fill="#c0c0c0"/>
<rect x="659" y="635" width="1" height="88" fill="#c0c0c0"/>
<rect x="667" y="635" width="1" height="85" fill="#c0c0c0"/>
<rect x="675" y="635" width="1" height="77" fill="#c0c0c0"/>
<rect x="683" y="635" width="1" height="68" fill="#c0c0c0"/>
<rect x="691" y="635" width="1" height="62" fill="#c0c0c0"/>
<rect x="699" y="635" width="1" height="52" fill="#c0c0c0"/>
<rect x="707" y="635" width="1" height="47" fill="#c0c0c0"/>
<rect x="715" y="635" width="1" height="41" fill="#c0c0c0"/>
<rect x="723" y="635" width="1" height="34" fill="#c0c0c0"/>
<rect x="731" y="635" width="1" height="27" fill="#c0c0c0"/>
<rect x="739" y="635" width="1" height="20" fill="#c0c0c0"/>
<rect x="747" y="635" width="1" height="14" fill="#c0c0c0"/>
<rect x="755" y="635" width="1" height="12" fill="#c0c0c0"/>
<rect x="763" y="635" width="1" height="12" fill="#c0c0c0"/>
<rect x="771" y="635" width="1" height="12" fill="#c0c0c0"/>
<rect x="779" y="635" width="1" height="11" fill="#c0c0c0"/>
<rect x="787" y="635" width="1" height="10" fill="#c0c0c0"/>
<rect x="795" y="635" width="1" height="5" fill="#c0c0c0"/>
<rect x="803" y="635" width="1" height="1" fill="#c0c0c0"/>
<rect x="811" y="634" width="1" height="2" fill="#c0c0c0"/>
<rect x="819" y="628" width="1" height="8" fill="#c0c0c0"/>
<rect x="827" y="622" width="1" height="14" fill="#c0c0c0"/>
<rect x="835" y="617" width="1" height="19" fill="#c0c0c0"/>
<rect x="843" y="613" width="1" height="23" fill="#c0c0c0"/>
<rect x="851" y="612" width="1" height="24" fill="#c0c0c0"/>
<rect x="859" y="612" width="1" height="24" fill="#c0c0c0"/>
<rect x="867" y="611" width="1" height="25" fill="#c0c0c0"/>
<rect x="875" y="611" width="1" height="25" fill="#c0c0c0"/>
<rect x="883" y="610" width="1" height="26" fill="#c0c0c0"/>
<rect x="891" y="611" width="1" height="25" fill="#c0c0c0"/>
<rect x="899" y="614" width="1" height="22" fill="#c0c0c0"/>
<rect x="907" y="617" width="1" height="19" fill="#c0c0c0"/>
<rect x="915" y="619" width="1" height="17" fill="#c0c0c0"/>
<rect x="923" y="622" width="1" height="14" fill="#c0c0c0"/>
<rect x="931" y="625" width="1" height="11" fill="#c0c0c0"/>
<rect x="939" y="633" width="1" height="3" fill="#c0c0c0"/>
<rect x="947" y="635" width="1" height="1" fill="#c0c0c0"/>
<rect x="955" y="635" width="1" height="1" fill="#c0c0c0"/>
<rect x="963" y="635" width="1" height="1" fill="#c0c0c0"/>
<rect x="971" y="635" width="1" height="2" fill="#c0c0c0"/>
<rect x="979" y="635" width="1" height="2" fill="#c0c0c0"/>
<rect x="987" y="635" width="1" height="4" fill="#c0c0c0"/>
<rect x="995" y="635" width="1" height="11" fill="#c0c0c0"/>
<rect x="1003" y="635" width="1" height="14" fill="#c0c0c0"/>
<rect x="1011" y="635" width="1" height="17" fill="#c0c0c0"/>
<rect x="1019" y="635" width="1" height="17" fill="#c0c0c0"/>
<rect x="1027" y="635" width="1" height="14" fill="#c0c0c0"/>
<rect x="1035" y="635" width="1" height="18" fill="#c0c0c0"/>
<rect x="1043" y="635" width="1" height="22" fill="#c0c0c0"/>
<rect x="1051" y="635" width="1" height="21" fill="#c0c0c0"/>
<rect x="1059" y="635" width="1" height="20" fill="#c0c0c0"/>
<rect x="1067" y="635" width="1" height="18" fill="#c0c0c0"/>
<rect x="1075" y="635" width="1" height="18" fill="#c0c0c0"/>
<rect x="1083" y="635" width="1" height="15" fill="#c0c0c0"/>
<rect x="1091" y="635" width="1" height="14" fill="#c0c0c0"/>
<rect x="1099" y="635" width="1" height="12" fill="#c0c0c0"/>
<rect x="1107" y="635" width="1" height="11" fill="#c0c0c0"/>
<rect x="1115" y="635" width="1" height="10" fill="#c0c0c0"/>
<rect x="1123" y="635" width="1" height="10" fill="#c0c0c0"/>
<rect x="1131" y="635" width="1" height="14" fill="#c0c0c0"/>
<rect x="1139" y="635" width="1" height="16" fill="#c0c0c0"/>
<rect x="1147" y="635" width="1" height="17" fill="#c0c0c0"/>
<rect x="1155" y="635" width="1" height="18" fill="#c0c0c0"/>
<rect x="1163" y="635" width="1" height="18" fill="#c0c0c0"/>
<rect x="1171" y="635" width="1" height="16" fill="#c0c0c0"/>
<rect x="1179" y="635" width="1" height="15" fill="#c0c0c0"/>
<rect x="1187" y="635" width="1" height="17" fill="#c0c0c0"/>
<rect x="1195" y="635" width="1" height="27" fill="#c0c0c0"/>
<rect x="1203" y="635" width="1" height="32" fill="#c0c0c0"/>
<rect x="1211" y="635" width="1" height="37" fill="#c0c0c0"/>
<rect x="1219" y="635" width="1" height="44" fill="#c0c0c0"/>
<rect x="1227" y="635" width="1" height="46" fill="#c0c0c0"/>
<rect x="1235" y="635" width="1" height="44" fill="#c0c0c0"/>
<rect x="1243" y="635" width="1" height="44" fill="#c0c0c0"/>
<rect x="1251" y="635" width="1" height="44" fill="#c0c0c0"/>
<rect x="1259" y="635" width="1" height="43" fill="#c0c0c0"/>
<rect x="1267" y="635" width="1" height="43" fill="#c0c0c0"/>
<rect x="1275" y="635" width="1" height="47" fill="#c0c0c0"/>
<rect x="1283" y="635" width="1" height="67" fill="#c0c0c0"/>
<rect x="1291" y="635" width="1" height="82" fill="#c0c0c0"/>
<rect x="1299" y="635" width="1" height="89" fill="#c0c0c0"/>
<rect x="1307" y="635" width="1" height="93" fill="#c0c0c0"/>
<rect x="1315" y="635" width="1" height="99" fill="#c0c0c0"/>
<rect x="1323" y="635" width="1" height="105" fill="#c0c0c0"/>
<rect x="1331" y="635" width="1" height="83" fill="#c0c0c0"/>
<rect x="1339" y="635" width="1" height="62" fill="#c0c0c0"/>
<rect x="1347" y="635" width="1" height="40" fill="#c0c0c0"/>
<rect x="1355" y="635" width="1" height="24" fill="#c0c0c0"/>
<rect x="1363" y="635" width="1" height="12" fill="#c0c0c0"/>
<rect x="1371" y="635" width="1" height="1" fill="#c0c0c0"/>
<rect x="1379" y="634" width="1" height="2" fill="#c0c0c0"/>
<rect x="1387" y="625" width="1" height="11" fill="#c0c0c0"/>
<polyline points="0.0,591.6 8.0,595.4 20.0,602.0 32.0,608.4 40.0,612.0 50.0,616.0 64.0,619.6 68.0,620.4 84.0,620.4 100.0,619.4 116.0,619.4 132.0,619.4 140.0,618.4 148.0,618.0 156.0,616.6 164.0,615.4 172.0,614.0 180.0,613.4 188.0,612.4 196.0,611.4 204.0,610.6 210.0,609.6 220.0,609.4 228.0,610.6 236.0,611.4 244.0,613.4 252.0,615.0 260.0,617.6 268.0,621.0 276.0,624.0 284.0,628.0 292.0,631.6 300.0,635.4 308.0,639.6 316.0,643.0 324.0,644.4 330.0,646.4 340.0,647.4 350.0,647.0 360.0,645.4 370.0,644.0 380.0,642.0 386.0,640.4 396.0,639.0 404.0,637.6 412.0,635.4 420.0,633.0 428.0,631.6 436.0,628.0 444.0,625.6 452.0,622.4 460.0,618.0 468.0,614.0 476.0,610.4 484.0,607.0 492.0,604.6 500.0,601.0 506.0,599.4 514.0,598.4 522.0,597.4 530.0,598.0 538.0,599.6 548.0,601.6 556.0,605.6 564.0,609.6 572.0,613.0 580.0,617.0 588.0,621.0 596.0,625.0 604.0,629.0 612.0,635.0 620.0,639.6 628.0,646.0 636.0,651.6 644.0,658.4 652.0,667.0 660.0,678.0 668.0,688.0 676.0,695.0 684.0,701.0 692.0,704.4 700.0,705.6 708.0,705.0 716.0,702.4 724.0,696.6 732.0,690.0 740.0,683.0 748.0,675.0 756.0,668.0 764.0,663.0 772.0,658.4 780.0,655.0 788.0,652.6 796.0,649.6 804.0,646.0 812.0,643.6 820.0,641.4 828.0,638.0 836.0,635.0 844.0,630.6 852.0,627.0 860.0,623.4 868.0,620.4 876.0,617.0 884.0,615.0 892.0,612.6 900.0,611.6 910.0,611.6 920.0,612.6 930.0,614.4 940.0,618.0 948.0,620.6 956.0,623.6 966.0,626.4 974.0,629.0 982.0,632.0 990.0,634.4 993.0,635.4 1000.0,638.4 1008.0,641.0 1016.0,643.0 1024.0,644.4 1032.0,646.4 1040.0,648.4 1048.0,650.4 1056.0,652.6 1064.0,654.0 1074.0,654.4 1090.0,654.4 1102.0,653.4 1110.0,652.4 1118.0,651.0 1126.0,650.4 1134.0,649.4 1150.0,649.6 1162.0,650.4 1178.0,651.0 1190.0,653.0 1198.0,655.0 1206.0,656.6 1214.0,659.0 1222.0,662.4 1230.0,665.0 1238.0,668.4 1246.0,671.6 1254.0,674.0 1262.0,677.4 1270.0,679.0 1278.0,681.4 1286.0,685.0 1294.0,689.0 1302.0,694.0 1310.0,699.0 1318.0,705.4 1326.0,712.0 1332.0,715.0 1340.0,717.4 1348.0,716.0 1356.0,712.0 1362.0,706.0 1368.0,699.0 1374.0,691.0 1380.0,682.0 1385.0,675.0" fill="none" stroke="#ff0000" stroke-width="1" stroke-dasharray="3 3"/>
</g>
<line x1="1325.5" y1="736.0" x2="1391.9" y2="624.4" stroke="#ff0000" stroke-width="3.6" stroke-linecap="round"/><polygon points="1396.0,617.5 1394.7,629.5 1391.9,624.4 1386.1,624.4" fill="#ff0000"/>
<g shape-rendering="crispEdges">
<line x1="2" y1="787.5" x2="1653" y2="787.5" stroke="#c0c0c0" stroke-width="1" stroke-dasharray="3 3"/>
<line x1="2" y1="838.5" x2="1653" y2="838.5" stroke="#c0c0c0" stroke-width="1" stroke-dasharray="3 3"/>
<line x1="2" y1="899.5" x2="1653" y2="899.5" stroke="#c0c0c0" stroke-width="1" stroke-dasharray="3 3"/>
<polyline points="-4.5,842.0 3.5,839.0 11.5,844.4 19.5,845.6 27.5,828.4 35.5,832.4 43.5,830.0 51.5,837.4 59.5,837.4 67.5,835.4 75.5,822.4 83.5,835.4 91.5,831.4 99.5,831.4 107.5,830.0 115.5,838.6 123.5,834.4 131.5,833.4 139.5,827.4 147.5,819.0 155.5,821.4 163.5,814.4 171.5,831.0 179.5,832.6 187.5,838.6 195.5,828.4 203.5,826.4 211.5,829.4 219.5,838.0 227.5,834.4 235.5,836.0 243.5,840.0 251.5,846.4 259.5,846.4 267.5,855.0 275.5,859.6 283.5,849.6 291.5,848.4 299.5,854.6 307.5,856.6 315.5,839.0 323.5,841.4 331.5,835.4 339.5,830.4 347.5,841.4 355.5,836.4 363.5,840.0 371.5,835.4 379.5,835.4 387.5,838.4 395.5,830.0 403.5,821.4 411.5,827.4 419.5,821.0 427.5,819.0 435.5,820.4 443.5,812.4 451.5,812.4 459.5,799.4 467.5,806.6 475.5,814.6 483.5,811.4 491.5,817.4 499.5,822.4 507.5,824.4 515.5,822.4 523.5,822.4 531.5,834.4 539.5,826.4 547.5,845.6 555.5,863.4 563.5,848.6 571.5,845.6 579.5,845.6 587.5,838.4 595.5,840.4 603.5,851.4 611.5,865.4 619.5,876.4 627.5,878.4 635.5,879.4 643.5,883.4 651.5,896.4 659.5,861.0 667.5,856.0 675.5,846.4 683.5,843.4 691.5,846.4 699.5,839.4 707.5,844.0 715.5,840.4 723.5,838.4 731.5,836.0 739.5,834.4 747.5,834.4 755.5,840.0 763.5,842.4 771.5,842.4 779.5,842.4 787.5,839.4 795.5,832.4 803.5,831.4 811.5,828.4 819.5,823.6 827.5,819.4 835.5,817.4 843.5,817.4 851.5,825.4 859.5,824.4 867.5,824.4 875.5,824.4 883.5,818.4 891.5,829.4 899.5,834.0 907.5,836.0 915.5,837.4 923.5,840.0 931.5,843.4 939.5,860.4 947.5,845.4 955.5,840.6 963.5,846.4 971.5,844.4 979.5,840.4 987.5,848.0 995.5,864.4 1003.5,854.4 1011.5,857.4 1019.5,845.4 1027.5,840.4 1035.5,854.4 1043.5,859.4 1051.5,845.4 1059.5,844.4 1067.5,843.4 1075.5,848.4 1083.5,840.4 1091.5,841.4 1099.5,842.4 1107.5,842.4 1115.5,841.4 1123.5,846.4 1131.5,858.4 1139.5,857.4 1147.5,852.4 1155.5,853.4 1163.5,850.4 1171.5,845.4 1179.5,845.4 1187.5,860.4 1195.5,878.4 1203.5,870.0 1211.5,872.0 1219.5,879.4 1227.5,864.0 1235.5,854.4 1243.5,860.4 1251.5,858.4 1259.5,857.4 1267.5,861.0 1275.5,871.0 1283.5,892.4 1291.5,892.4 1299.5,879.4 1307.5,878.4 1315.5,882.0 1323.5,885.4 1331.5,833.0 1339.5,826.4 1347.5,823.4 1355.5,824.4 1363.5,825.4 1371.5,825.0 1379.5,831.4 1387.5,825.0" fill="none" stroke="#1e90ff" stroke-width="1"/>
</g>
<line x1="1323.5" y1="889.5" x2="1334.5" y2="832" stroke="#ff0000" stroke-width="3" stroke-linecap="round"/>
<polygon points="1335,829 1329.5,839 1337.5,840" fill="#ff0000"/>
<line x1="1335.0" y1="830.5" x2="1386.1" y2="824.3" stroke="#ff0000" stroke-width="3" stroke-linecap="round"/><polygon points="1394.0,823.3 1383.6,829.1 1386.1,824.3 1382.5,820.2" fill="#ff0000"/>
<g>
<rect x="0" y="42" width="219" height="61" fill="#fff"/>
<path d="M0,44 H50 V69 H107 V101 H0 Z" fill="url(#gb)"/>
<path d="M165,44 H217 V101 H109 V69 H165 Z" fill="url(#gb)"/>
<rect x="2" y="67.5" width="44" height="1" fill="#7c7cf0"/>
<rect x="169" y="67.5" width="44" height="1" fill="#7c7cf0"/>
<rect x="50" y="44" width="115" height="25" fill="#fff"/>
<rect x="52.5" y="45.5" width="110" height="20" fill="#fff" stroke="#b4b4b4" stroke-width="1"/>
<rect x="53.5" y="46.5" width="19.5" height="18" fill="url(#gbtn)" stroke="#d8d8d8" stroke-width="0.6"/>
<rect x="142" y="46.5" width="19.5" height="18" fill="url(#gbtn)" stroke="#d8d8d8" stroke-width="0.6"/>
<rect x="73.5" y="46" width="1" height="19" fill="#b4b4b4"/><rect x="141" y="46" width="1" height="19" fill="#b4b4b4"/>
<polygon points="59.5,53 65.5,53 62.5,56" fill="#4a5ec8"/>
<polygon points="148.5,56 154.5,56 151.5,53" fill="#4a5ec8"/>
<text x="138" y="59.5" font-size="13" fill="#000" text-anchor="end" textLength="24" lengthAdjust="spacingAndGlyphs">1.00</text>
<text x="23" y="60" font-size="12" fill="#fff" text-anchor="middle" textLength="26" lengthAdjust="spacingAndGlyphs">SELL</text>
<text x="190.5" y="60" font-size="12" fill="#fff" text-anchor="middle" textLength="23" lengthAdjust="spacingAndGlyphs">BUY</text>
<text x="14" y="96" font-size="11.5" fill="#fff" textLength="35" lengthAdjust="spacingAndGlyphs" font-weight="bold">28591</text>
<text x="123.5" y="96" font-size="11.5" fill="#fff" textLength="35" lengthAdjust="spacingAndGlyphs" font-weight="bold">28614</text>
<rect x="54" y="93.6" width="3.4" height="3.4" fill="#fff"/>
<rect x="164" y="93.6" width="3.4" height="3.4" fill="#fff"/>
<text x="59.3" y="97" font-size="35" fill="#fff" textLength="17.2" lengthAdjust="spacingAndGlyphs">0</text>
<text x="169.3" y="97" font-size="35" fill="#fff" textLength="17.2" lengthAdjust="spacingAndGlyphs">0</text>
</g>
<g>
<rect x="0" y="0" width="1700" height="20" fill="#f0f0f0"/>
<rect x="0" y="19" width="1700" height="1" fill="#e2e2e2"/>
<rect x="0" y="20" width="1700" height="1" fill="#a8a8a8"/>
<rect x="0" y="21" width="1700" height="1" fill="#6e6e6e"/>
<rect x="0" y="22" width="1700" height="2" fill="#ffffff"/>
<line x1="2" y1="12" x2="6" y2="16.5" stroke="#c8a020" stroke-width="3" stroke-linecap="round"/>
<circle cx="-1" cy="7" r="5.5" fill="#d4ecfa" stroke="#2c7bd0" stroke-width="1.3"/>
<rect x="4" y="8" width="2" height="2" fill="#333" transform="rotate(45 5 9)"/>
<rect x="14" y="0" width="1" height="18" fill="#a0a0a0" shape-rendering="crispEdges"/>
<path d="M24.5,0.5 h7 l3,3 v10 h-10 z" fill="#fcfcfc" stroke="#6c6c6c" stroke-width="1"/><rect x="26" y="3" width="3" height="1" fill="#9a9a9a"/><rect x="26" y="5.5" width="5" height="1" fill="#b0b0b0"/><path d="M33.3,7 h3.4 v3.4 h3.4 v3.4 h-3.4 v3.4 h-3.4 v-3.4 h-3.4 v-3.4 h3.4 z" fill="#2ad02a" stroke="#0e8a18" stroke-width="0.8"/>
<text x="43" y="12" font-size="12" fill="#000" textLength="36" lengthAdjust="spacingAndGlyphs" stroke="#000" stroke-width="0.3">新订单</text>
<path d="M91,8 L98,1 L107,6.5 L104,13 L99,16 Z" fill="#e0a818" stroke="#a87408" stroke-width="0.8"/>
<path d="M93.5,8 L98.5,3 L104.5,7 L101,12 Z" fill="#f4d050"/>
<path d="M99,16 L104,13 L107,6.5" fill="none" stroke="#c89040" stroke-width="1.5"/>
<rect x="122" y="0" width="10" height="10" fill="#2a8ae6"/>
<rect x="124.5" y="3" width="6" height="5" fill="#e4f0fc"/>
<path d="M121,15.5 a3,3 0 0 1 0,-6 a3.6,3.6 0 0 1 6.5,-1.2 a3.2,3.2 0 0 1 5,2 a2.6,2.6 0 0 1 0,5.2 z" fill="#f0f4fa" stroke="#7f9cc8" stroke-width="1"/>
<circle cx="155" cy="8" r="7.2" fill="none" stroke="#9ab8dc" stroke-width="1.2"/>
<circle cx="155" cy="8" r="4.4" fill="none" stroke="#5a8cd0" stroke-width="1.2"/>
<path d="M155,8 L155,15.5 A7.5,7.5 0 0 0 162.3,9 Z" fill="#58b860" opacity="0.9"/>
<circle cx="155" cy="7.5" r="1.8" fill="#2c5cc8"/>
<rect x="154.3" y="8" width="1.5" height="8" fill="#2e9e38"/>
<path d="M175,9 L181,15.5 L190,11 L189,6 Z" fill="#f4d648" stroke="#c8a020" stroke-width="0.8"/>
<ellipse cx="182" cy="5" rx="8" ry="3.2" fill="#4c9ad8"/>
<path d="M178,4.5 a4,4.5 0 0 1 8,0 z" fill="#5aa8e0"/>
<circle cx="186.5" cy="11.5" r="4" fill="#dc2a14"/>
<rect x="185" y="10" width="3" height="3" fill="#fff"/>
<text x="196" y="12" font-size="12" fill="#000" textLength="47" lengthAdjust="spacingAndGlyphs" stroke="#000" stroke-width="0.3">自动交易</text>
<rect x="250" y="0" width="1" height="20" fill="#a0a0a0" shape-rendering="crispEdges"/>
<rect x="254" y="0" width="3" height="1" fill="#b4b4b4" shape-rendering="crispEdges"/><rect x="254" y="2" width="3" height="1" fill="#b4b4b4" shape-rendering="crispEdges"/><rect x="254" y="4" width="3" height="1" fill="#b4b4b4" shape-rendering="crispEdges"/><rect x="254" y="6" width="3" height="1" fill="#b4b4b4" shape-rendering="crispEdges"/><rect x="254" y="8" width="3" height="1" fill="#b4b4b4" shape-rendering="crispEdges"/><rect x="254" y="10" width="3" height="1" fill="#b4b4b4" shape-rendering="crispEdges"/><rect x="254" y="12" width="3" height="1" fill="#b4b4b4" shape-rendering="crispEdges"/><rect x="254" y="14" width="3" height="1" fill="#b4b4b4" shape-rendering="crispEdges"/><rect x="254" y="16" width="3" height="1" fill="#b4b4b4" shape-rendering="crispEdges"/>
<g stroke="#555" stroke-width="1.2" fill="none" shape-rendering="crispEdges"><line x1="268.5" y1="2" x2="268.5" y2="16"/><line x1="266" y1="13.5" x2="280" y2="13.5"/></g><polygon points="266.5,3.5 268.5,1 270.5,3.5" fill="#555"/><polygon points="278,11.5 280.5,13.5 278,15.5" fill="#555"/>
<path d="M272.5,10.5 h2 v-6.5 h2.5" fill="none" stroke="#1e9e32" stroke-width="1.4"/>
<rect x="289" y="0" width="24" height="18" fill="#f8f8f8"/>
<rect x="288" y="0" width="1" height="18" fill="#a0a0a0" shape-rendering="crispEdges"/>
<g stroke="#555" stroke-width="1.2" fill="none" shape-rendering="crispEdges"><line x1="296.5" y1="2" x2="296.5" y2="16"/><line x1="294" y1="13.5" x2="308" y2="13.5"/></g><polygon points="294.5,3.5 296.5,1 298.5,3.5" fill="#555"/><polygon points="306,11.5 308.5,13.5 306,15.5" fill="#555"/>
<line x1="303" y1="0" x2="303" y2="11.5" stroke="#1e7e22" stroke-width="1"/>
<rect x="301.3" y="2.5" width="3.4" height="7" fill="#22c02a" stroke="#1e7e22" stroke-width="0.8"/>
<g stroke="#555" stroke-width="1.2" fill="none" shape-rendering="crispEdges"><line x1="324.5" y1="2" x2="324.5" y2="16"/><line x1="322" y1="13.5" x2="336" y2="13.5"/></g><polygon points="322.5,3.5 324.5,1 326.5,3.5" fill="#555"/><polygon points="334,11.5 336.5,13.5 334,15.5" fill="#555"/>
<path d="M323.5,10.5 C327,5 330,3.5 335,9.5" fill="none" stroke="#2e9e48" stroke-width="1.2"/>
<rect x="345" y="0" width="1" height="18" fill="#a0a0a0" shape-rendering="crispEdges"/>
<line x1="364.5" y1="10.5" x2="369" y2="15" stroke="#c8a020" stroke-width="3" stroke-linecap="round"/><circle cx="360" cy="6" r="5.3" fill="#d4ecfa" stroke="#2c7bd0" stroke-width="1.3"/><rect x="357" y="5.2" width="6" height="1.6" fill="#3c82b4"/><rect x="359.2" y="3" width="1.6" height="6" fill="#3c82b4"/>
<line x1="392.5" y1="10.5" x2="397" y2="15" stroke="#c8a020" stroke-width="3" stroke-linecap="round"/><circle cx="388" cy="6" r="5.3" fill="#d4ecfa" stroke="#2c7bd0" stroke-width="1.3"/><rect x="385" y="5.2" width="6" height="1.6" fill="#3c82b4"/>
<rect x="410" y="0" width="7.8" height="7.6" fill="#3c9e1e"/>
<rect x="411.4" y="3.2" width="5" height="3.4" fill="#e8f0e8"/>
<rect x="411.4" y="4.4" width="5" height="0.9" fill="#3c9e1e"/>
<rect x="418.5" y="0" width="7.8" height="7.6" fill="#1e5ad8"/>
<rect x="419.9" y="3.2" width="5" height="3.4" fill="#e8f0e8"/>
<rect x="419.9" y="4.4" width="5" height="0.9" fill="#1e5ad8"/>
<rect x="410" y="8.3" width="7.8" height="7.6" fill="#1e5ad8"/>
<rect x="411.4" y="11.5" width="5" height="3.4" fill="#e8f0e8"/>
<rect x="411.4" y="12.700000000000001" width="5" height="0.9" fill="#1e5ad8"/>
<rect x="418.5" y="8.3" width="7.8" height="7.6" fill="#3c9e1e"/>
<rect x="419.9" y="11.5" width="5" height="3.4" fill="#e8f0e8"/>
<rect x="419.9" y="12.700000000000001" width="5" height="0.9" fill="#3c9e1e"/>
<rect x="435" y="0" width="1" height="18" fill="#a0a0a0" shape-rendering="crispEdges"/>
<rect x="440" y="0" width="24" height="18" fill="#f8f8f8"/>
<rect x="439" y="0" width="1" height="18" fill="#a0a0a0" shape-rendering="crispEdges"/>
<g stroke="#555" stroke-width="1.2" fill="none" shape-rendering="crispEdges"><line x1="448.5" y1="2" x2="448.5" y2="16"/><line x1="446" y1="13.5" x2="460" y2="13.5"/></g><polygon points="446.5,3.5 448.5,1 450.5,3.5" fill="#555"/><polygon points="458,11.5 460.5,13.5 458,15.5" fill="#555"/>
<polygon points="453,4 457,7.5 453,11" fill="#58d040" stroke="#1e8e22" stroke-width="0.9"/>
<rect x="469" y="0" width="24" height="18" fill="#f8f8f8"/>
<rect x="468" y="0" width="1" height="18" fill="#a0a0a0" shape-rendering="crispEdges"/>
<g stroke="#555" stroke-width="1.2" fill="none" shape-rendering="crispEdges"><line x1="476.5" y1="2" x2="476.5" y2="16"/><line x1="474" y1="13.5" x2="488" y2="13.5"/></g><polygon points="474.5,3.5 476.5,1 478.5,3.5" fill="#555"/><polygon points="486,11.5 488.5,13.5 486,15.5" fill="#555"/>
<rect x="482" y="2" width="1.2" height="10" fill="#1e6ea8"/>
<path d="M488,7.5 h-4 m2,-2.5 l-2.5,2.5 l2.5,2.5" fill="none" stroke="#d04010" stroke-width="1.2"/>
<rect x="497" y="0" width="1" height="18" fill="#a0a0a0" shape-rendering="crispEdges"/>
<path d="M507.5,0.5 h7 l3,3 v10 h-10 z" fill="#fcfcfc" stroke="#6c6c6c" stroke-width="1"/><rect x="509" y="3" width="3" height="1" fill="#9a9a9a"/><rect x="509" y="5.5" width="5" height="1" fill="#b0b0b0"/><path d="M516.3,7 h3.4 v3.4 h3.4 v3.4 h-3.4 v3.4 h-3.4 v-3.4 h-3.4 v-3.4 h3.4 z" fill="#2ad02a" stroke="#0e8a18" stroke-width="0.8"/>
<polygon points="529,7 535,7 532,10" fill="#000"/>
<circle cx="553" cy="8" r="7.3" fill="#1e68d8"/>
<circle cx="553" cy="8" r="4.8" fill="#f4f8fc"/>
<path d="M553,4 v4.3 h3" fill="none" stroke="#333" stroke-width="1.1"/>
<rect x="551" y="0" width="4" height="1.5" fill="#1e68d8"/>
<polygon points="568,7 574,7 571,10" fill="#000"/>
<rect x="584.5" y="1.5" width="15" height="13" fill="#f4f8ff" stroke="#2c6ed0" stroke-width="1"/>
<rect x="584" y="1" width="16" height="2.2" fill="#4c8ee0"/>
<path d="M586,7 l2.5,-1 l2.5,0.5 l2.5,-1.5 l2.5,0.5 l2,-1" fill="none" stroke="#a81e10" stroke-width="1.2"/>
<rect x="585" y="8.6" width="14" height="0.8" fill="#6c9ee0"/>
<path d="M586,12.5 l2.5,-1 l2.5,0.8 l3,-2 l2.5,2 l1.5,0" fill="none" stroke="#1e9e22" stroke-width="1.2"/>
<polygon points="607,7 613,7 610,10" fill="#000"/>
<rect x="618" y="0" width="1" height="20" fill="#a0a0a0" shape-rendering="crispEdges"/>
<rect x="622" y="0" width="3" height="1" fill="#b4b4b4" shape-rendering="crispEdges"/><rect x="622" y="2" width="3" height="1" fill="#b4b4b4" shape-rendering="crispEdges"/><rect x="622" y="4" width="3" height="1" fill="#b4b4b4" shape-rendering="crispEdges"/><rect x="622" y="6" width="3" height="1" fill="#b4b4b4" shape-rendering="crispEdges"/><rect x="622" y="8" width="3" height="1" fill="#b4b4b4" shape-rendering="crispEdges"/><rect x="622" y="10" width="3" height="1" fill="#b4b4b4" shape-rendering="crispEdges"/><rect x="622" y="12" width="3" height="1" fill="#b4b4b4" shape-rendering="crispEdges"/><rect x="622" y="14" width="3" height="1" fill="#b4b4b4" shape-rendering="crispEdges"/><rect x="622" y="16" width="3" height="1" fill="#b4b4b4" shape-rendering="crispEdges"/>
<rect x="629" y="0" width="24" height="18" fill="#f8f8f8"/>
<path d="M636.5,2 L636.5,13 L639,10.5 L641.2,15 L643,14.2 L641,9.8 L644.8,9.8 Z" fill="#444"/>
<g shape-rendering="crispEdges" fill="#555"><rect x="668" y="1" width="1" height="15"/><rect x="661" y="8" width="15" height="1"/></g>
<rect x="685" y="0" width="1" height="18" fill="#a0a0a0" shape-rendering="crispEdges"/>
<g shape-rendering="crispEdges" fill="#555"><rect x="702" y="2" width="1" height="13"/><rect x="725" y="8" width="12" height="1"/></g>
<line x1="753" y1="15" x2="765" y2="3" stroke="#555" stroke-width="1.1"/>
<g stroke="#555" stroke-width="1" fill="none"><line x1="779" y1="11" x2="790" y2="2"/><line x1="781" y1="15" x2="793" y2="5"/><line x1="783" y1="8" x2="783" y2="13"/><line x1="786" y1="6" x2="786" y2="11"/><line x1="789" y1="3" x2="789" y2="8"/></g>
<text x="790" y="17" font-size="7" fill="#333" stroke="#333" stroke-width="0.1" font-weight="bold">E</text>
<line x1="808" y1="1.5" x2="821" y2="1.5" stroke="#555" stroke-width="1" stroke-dasharray="1 1" shape-rendering="crispEdges"/>
<line x1="808" y1="4.5" x2="821" y2="4.5" stroke="#555" stroke-width="1" stroke-dasharray="1 1" shape-rendering="crispEdges"/>
<line x1="808" y1="8.5" x2="821" y2="8.5" stroke="#555" stroke-width="1" stroke-dasharray="1 1" shape-rendering="crispEdges"/>
<line x1="808" y1="12.5" x2="821" y2="12.5" stroke="#555" stroke-width="1" stroke-dasharray="1 1" shape-rendering="crispEdges"/>
<rect x="816" y="11" width="8" height="7" fill="#f0f0f0"/>
<text x="818" y="17" font-size="7" fill="#333" stroke="#333" stroke-width="0.1" font-weight="bold">F</text>
<text x="838.5" y="13" font-size="13" fill="#555" textLength="9" lengthAdjust="spacingAndGlyphs">A</text>
<rect x="865.5" y="2.5" width="11" height="12" fill="none" stroke="#555" stroke-width="1" stroke-dasharray="1 1" shape-rendering="crispEdges"/>
<text x="866.5" y="13" font-size="12" fill="#555" textLength="9" lengthAdjust="spacingAndGlyphs" font-weight="bold">T</text>
<polygon points="892,5 895.5,2 899,5 895.5,7" fill="#444"/>
<polygon points="899,12 902.5,10 906,12 902.5,15" fill="#444"/>
<path d="M894.5,9 l2,2 l4,-4.5" fill="none" stroke="#444" stroke-width="1.3"/>
<polygon points="913,7 919,7 916,10" fill="#000"/>
<rect x="924" y="0" width="1" height="20" fill="#a0a0a0" shape-rendering="crispEdges"/>
<rect x="928" y="0" width="3" height="1" fill="#b4b4b4" shape-rendering="crispEdges"/><rect x="928" y="2" width="3" height="1" fill="#b4b4b4" shape-rendering="crispEdges"/><rect x="928" y="4" width="3" height="1" fill="#b4b4b4" shape-rendering="crispEdges"/><rect x="928" y="6" width="3" height="1" fill="#b4b4b4" shape-rendering="crispEdges"/><rect x="928" y="8" width="3" height="1" fill="#b4b4b4" shape-rendering="crispEdges"/><rect x="928" y="10" width="3" height="1" fill="#b4b4b4" shape-rendering="crispEdges"/><rect x="928" y="12" width="3" height="1" fill="#b4b4b4" shape-rendering="crispEdges"/><rect x="928" y="14" width="3" height="1" fill="#b4b4b4" shape-rendering="crispEdges"/><rect x="928" y="16" width="3" height="1" fill="#b4b4b4" shape-rendering="crispEdges"/>
<rect x="1075" y="0" width="24" height="18" fill="#f8f8f8"/>
<rect x="1074" y="0" width="1" height="18" fill="#a0a0a0" shape-rendering="crispEdges"/>
<text x="939.5" y="12" font-size="9.6" fill="#3c3c3c" textLength="13" lengthAdjust="spacingAndGlyphs" stroke="none">M1</text>
<text x="967.5" y="12" font-size="9.6" fill="#3c3c3c" textLength="13" lengthAdjust="spacingAndGlyphs" stroke="none">M5</text>
<text x="993" y="12" font-size="9.6" fill="#3c3c3c" textLength="19" lengthAdjust="spacingAndGlyphs" stroke="none">M15</text>
<text x="1021" y="12" font-size="9.6" fill="#3c3c3c" textLength="20" lengthAdjust="spacingAndGlyphs" stroke="none">M30</text>
<text x="1052" y="12" font-size="9.6" fill="#3c3c3c" textLength="13" lengthAdjust="spacingAndGlyphs" stroke="none">H1</text>
<text x="1079" y="12" font-size="9.6" fill="#3c3c3c" textLength="13" lengthAdjust="spacingAndGlyphs" stroke="none">H4</text>
<text x="1108" y="12" font-size="9.6" fill="#3c3c3c" textLength="13" lengthAdjust="spacingAndGlyphs" stroke="none">D1</text>
<text x="1135.5" y="12" font-size="9.6" fill="#3c3c3c" textLength="14" lengthAdjust="spacingAndGlyphs" stroke="none">W1</text>
<text x="1162" y="12" font-size="9.6" fill="#3c3c3c" textLength="15" lengthAdjust="spacingAndGlyphs" stroke="none">MN</text>
<rect x="1185" y="0" width="1" height="20" fill="#a0a0a0" shape-rendering="crispEdges"/>
<line x1="1652.5" y1="8.7" x2="1648.3" y2="12.8" stroke="#2a5ad8" stroke-width="2.2" stroke-linecap="round"/>
<circle cx="1655.5" cy="5.3" r="3.9" fill="#f2f2f8" stroke="#2a5ad8" stroke-width="1.2"/>
<path d="M1675,13.5 l-0.5,3.3 l3.2,-3 z" fill="#b0b0b0"/>
<ellipse cx="1678" cy="9.5" rx="6" ry="4.6" fill="#e4e4ec" stroke="#c4c4c8" stroke-width="0.8"/>
<circle cx="1686.5" cy="5" r="8.3" fill="#e03418"/>
<text x="1686.5" y="10" font-size="12" fill="#fff" text-anchor="middle">1</text>
</g>
</svg>
</body></html>
